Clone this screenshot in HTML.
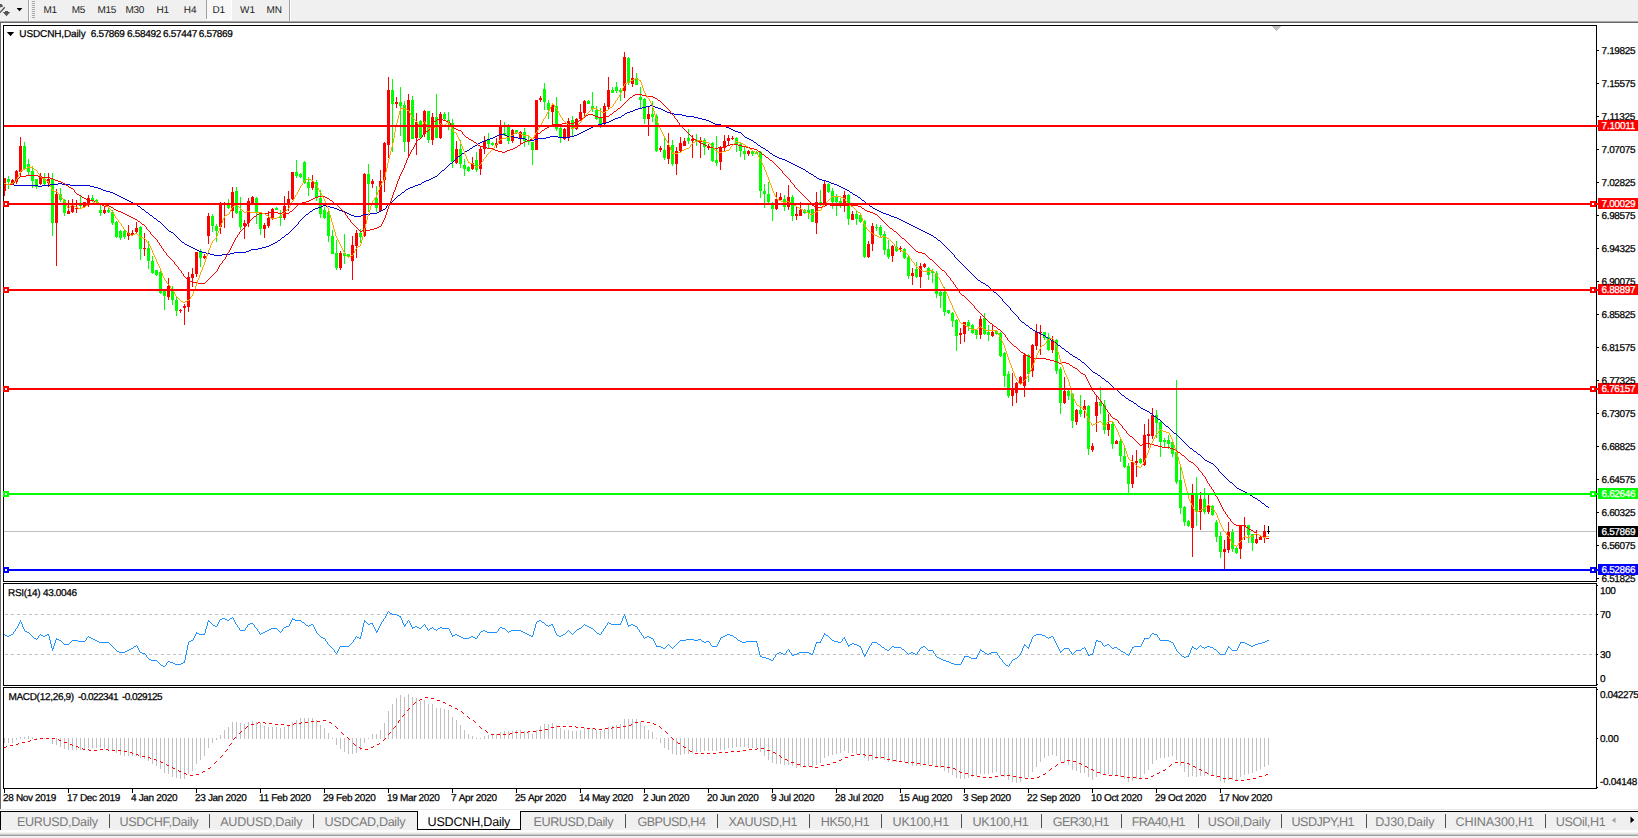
<!DOCTYPE html>
<html><head><meta charset="utf-8"><title>USDCNH,Daily</title>
<style>
html,body{margin:0;padding:0;background:#fff;overflow:hidden;}
body{width:1638px;height:838px;overflow:hidden;position:relative;font-family:"Liberation Sans",sans-serif;}
.t{position:absolute;white-space:nowrap;line-height:1;text-rendering:geometricPrecision;}
.b{position:absolute;}
</style></head><body>
<div class="b" style="left:0px;top:0px;width:1638px;height:21px;background:#f0f0f0"></div><div class="b" style="left:0px;top:21px;width:1638px;height:1px;background:#a8a8a8"></div><div class="b" style="left:0px;top:22px;width:1638px;height:1px;background:#696969"></div><div class="b" style="left:28px;top:0px;width:1px;height:21px;background:#a0a0a0"></div><div class="b" style="left:29px;top:0px;width:1px;height:21px;background:#fff"></div><div class="b" style="left:32px;top:1px;width:3px;height:1px;background:#a8a8a8"></div><div class="b" style="left:32px;top:3px;width:3px;height:1px;background:#a8a8a8"></div><div class="b" style="left:32px;top:5px;width:3px;height:1px;background:#a8a8a8"></div><div class="b" style="left:32px;top:7px;width:3px;height:1px;background:#a8a8a8"></div><div class="b" style="left:32px;top:9px;width:3px;height:1px;background:#a8a8a8"></div><div class="b" style="left:32px;top:11px;width:3px;height:1px;background:#a8a8a8"></div><div class="b" style="left:32px;top:13px;width:3px;height:1px;background:#a8a8a8"></div><div class="b" style="left:32px;top:15px;width:3px;height:1px;background:#a8a8a8"></div><div class="b" style="left:32px;top:17px;width:3px;height:1px;background:#a8a8a8"></div><div class="b" style="left:206px;top:0px;width:1px;height:19px;background:#a0a0a0"></div><div class="b" style="left:207px;top:0px;width:24px;height:19px;background:#f8f8f8"></div><div class="b" style="left:206px;top:19px;width:26px;height:1px;background:#fff"></div><div class="b" style="left:231px;top:0px;width:1px;height:19px;background:#fff"></div><div class="b" style="left:289px;top:0px;width:1px;height:21px;background:#a0a0a0"></div><div class="b" style="left:290px;top:0px;width:1px;height:21px;background:#fff"></div><div class="b" style="left:0px;top:23px;width:1px;height:786px;background:#696969"></div><div class="b" style="left:0px;top:809px;width:1638px;height:1px;background:#e6e6e6"></div><div class="b" style="left:0px;top:812px;width:1638px;height:18px;background:#f0f0f0"></div><div class="b" style="left:0px;top:811px;width:1638px;height:1px;background:#000"></div><div class="b" style="left:0px;top:811px;width:1px;height:19px;background:#000"></div><div class="b" style="left:0px;top:830px;width:1638px;height:2px;background:#fdfdfd"></div><div class="b" style="left:0px;top:832px;width:1638px;height:1px;background:#f4f4f4"></div><div class="b" style="left:0px;top:833px;width:1638px;height:1px;background:#e4e4e4"></div><div class="b" style="left:0px;top:834px;width:1638px;height:1px;background:#c8c8c8"></div><div class="b" style="left:0px;top:835px;width:1638px;height:1px;background:#a0a0a0"></div><div class="b" style="left:0px;top:836px;width:1638px;height:2px;background:#f0f0f0"></div><div class="b" style="left:109px;top:814px;width:1px;height:14px;background:#505050"></div><div class="b" style="left:209px;top:814px;width:1px;height:14px;background:#505050"></div><div class="b" style="left:313px;top:814px;width:1px;height:14px;background:#505050"></div><div class="b" style="left:625px;top:814px;width:1px;height:14px;background:#505050"></div><div class="b" style="left:717px;top:814px;width:1px;height:14px;background:#505050"></div><div class="b" style="left:809px;top:814px;width:1px;height:14px;background:#505050"></div><div class="b" style="left:881px;top:814px;width:1px;height:14px;background:#505050"></div><div class="b" style="left:961px;top:814px;width:1px;height:14px;background:#505050"></div><div class="b" style="left:1041px;top:814px;width:1px;height:14px;background:#505050"></div><div class="b" style="left:1121px;top:814px;width:1px;height:14px;background:#505050"></div><div class="b" style="left:1198px;top:814px;width:1px;height:14px;background:#505050"></div><div class="b" style="left:1281px;top:814px;width:1px;height:14px;background:#505050"></div><div class="b" style="left:1366px;top:814px;width:1px;height:14px;background:#505050"></div><div class="b" style="left:1445px;top:814px;width:1px;height:14px;background:#505050"></div><div class="b" style="left:1545px;top:814px;width:1px;height:14px;background:#505050"></div><div class="b" style="left:417px;top:811px;width:104px;height:19px;background:#000"></div><div class="b" style="left:418px;top:811px;width:102px;height:18px;background:#fff"></div>
<svg width="1638" height="838" viewBox="0 0 1638 838" shape-rendering="crispEdges" style="position:absolute;left:0;top:0">
<rect x="3" y="25" width="1594" height="1" fill="#000"/>
<rect x="3" y="25" width="1" height="557" fill="#000"/>
<rect x="3" y="581" width="1594" height="1" fill="#000"/>
<rect x="1596" y="25" width="1" height="557" fill="#000"/>
<rect x="3" y="583" width="1594" height="1" fill="#000"/>
<rect x="3" y="583" width="1" height="103" fill="#000"/>
<rect x="3" y="685" width="1594" height="1" fill="#000"/>
<rect x="1596" y="583" width="1" height="103" fill="#000"/>
<rect x="3" y="687" width="1594" height="1" fill="#000"/>
<rect x="3" y="687" width="1" height="102" fill="#000"/>
<rect x="3" y="788" width="1594" height="1" fill="#000"/>
<rect x="1596" y="687" width="1" height="102" fill="#000"/>
<rect x="1597" y="50" width="2" height="1" fill="#000"/>
<rect x="1597" y="83" width="2" height="1" fill="#000"/>
<rect x="1597" y="116" width="2" height="1" fill="#000"/>
<rect x="1597" y="149" width="2" height="1" fill="#000"/>
<rect x="1597" y="182" width="2" height="1" fill="#000"/>
<rect x="1597" y="215" width="2" height="1" fill="#000"/>
<rect x="1597" y="248" width="2" height="1" fill="#000"/>
<rect x="1597" y="281" width="2" height="1" fill="#000"/>
<rect x="1597" y="314" width="2" height="1" fill="#000"/>
<rect x="1597" y="347" width="2" height="1" fill="#000"/>
<rect x="1597" y="380" width="2" height="1" fill="#000"/>
<rect x="1597" y="413" width="2" height="1" fill="#000"/>
<rect x="1597" y="446" width="2" height="1" fill="#000"/>
<rect x="1597" y="479" width="2" height="1" fill="#000"/>
<rect x="1597" y="512" width="2" height="1" fill="#000"/>
<rect x="1597" y="545" width="2" height="1" fill="#000"/>
<rect x="1597" y="578" width="2" height="1" fill="#000"/>
<rect x="1597" y="585" width="1" height="1" fill="#000"/>
<rect x="1597" y="614" width="1" height="1" fill="#000"/>
<rect x="1597" y="654" width="1" height="1" fill="#000"/>
<rect x="1597" y="684" width="1" height="1" fill="#000"/>
<rect x="1597" y="689" width="1" height="1" fill="#000"/>
<rect x="1597" y="738" width="1" height="1" fill="#000"/>
<rect x="1597" y="787" width="1" height="1" fill="#000"/>
<rect x="4" y="789" width="1" height="4" fill="#000"/>
<rect x="68" y="789" width="1" height="4" fill="#000"/>
<rect x="132" y="789" width="1" height="4" fill="#000"/>
<rect x="196" y="789" width="1" height="4" fill="#000"/>
<rect x="260" y="789" width="1" height="4" fill="#000"/>
<rect x="324" y="789" width="1" height="4" fill="#000"/>
<rect x="388" y="789" width="1" height="4" fill="#000"/>
<rect x="452" y="789" width="1" height="4" fill="#000"/>
<rect x="516" y="789" width="1" height="4" fill="#000"/>
<rect x="580" y="789" width="1" height="4" fill="#000"/>
<rect x="644" y="789" width="1" height="4" fill="#000"/>
<rect x="708" y="789" width="1" height="4" fill="#000"/>
<rect x="772" y="789" width="1" height="4" fill="#000"/>
<rect x="836" y="789" width="1" height="4" fill="#000"/>
<rect x="900" y="789" width="1" height="4" fill="#000"/>
<rect x="964" y="789" width="1" height="4" fill="#000"/>
<rect x="1028" y="789" width="1" height="4" fill="#000"/>
<rect x="1092" y="789" width="1" height="4" fill="#000"/>
<rect x="1156" y="789" width="1" height="4" fill="#000"/>
<rect x="1220" y="789" width="1" height="4" fill="#000"/>
<line x1="5" y1="614.5" x2="1596" y2="614.5" stroke="#c0c0c0" stroke-width="1" stroke-dasharray="3 3"/>
<line x1="5" y1="654.5" x2="1596" y2="654.5" stroke="#c0c0c0" stroke-width="1" stroke-dasharray="3 3"/>
<polygon points="1271,26 1282,26 1276.5,31" fill="#c0c0c0"/>
<rect x="4" y="531" width="1592" height="1" fill="#c0c0c0"/>
<rect x="4" y="178" width="1" height="18" fill="#ff0000"/>
<rect x="3" y="178" width="3" height="13" fill="#ff0000"/>
<rect x="8" y="176" width="1" height="13" fill="#00ff00"/>
<rect x="7" y="179" width="3" height="3" fill="#00ff00"/>
<rect x="12" y="179" width="1" height="5" fill="#ff0000"/>
<rect x="11" y="180" width="3" height="4" fill="#ff0000"/>
<rect x="16" y="170" width="1" height="14" fill="#ff0000"/>
<rect x="15" y="171" width="3" height="11" fill="#ff0000"/>
<rect x="20" y="137" width="1" height="40" fill="#ff0000"/>
<rect x="19" y="146" width="3" height="26" fill="#ff0000"/>
<rect x="24" y="142" width="1" height="27" fill="#00ff00"/>
<rect x="23" y="146" width="3" height="23" fill="#00ff00"/>
<rect x="28" y="159" width="1" height="16" fill="#00ff00"/>
<rect x="27" y="164" width="3" height="8" fill="#00ff00"/>
<rect x="32" y="166" width="1" height="22" fill="#00ff00"/>
<rect x="31" y="171" width="3" height="10" fill="#00ff00"/>
<rect x="36" y="179" width="1" height="10" fill="#00ff00"/>
<rect x="35" y="179" width="3" height="8" fill="#00ff00"/>
<rect x="40" y="173" width="1" height="12" fill="#ff0000"/>
<rect x="39" y="177" width="3" height="7" fill="#ff0000"/>
<rect x="44" y="173" width="1" height="12" fill="#00ff00"/>
<rect x="43" y="179" width="3" height="5" fill="#00ff00"/>
<rect x="48" y="173" width="1" height="14" fill="#ff0000"/>
<rect x="47" y="179" width="3" height="4" fill="#ff0000"/>
<rect x="52" y="173" width="1" height="63" fill="#00ff00"/>
<rect x="51" y="179" width="3" height="44" fill="#00ff00"/>
<rect x="56" y="189" width="1" height="77" fill="#ff0000"/>
<rect x="55" y="194" width="3" height="29" fill="#ff0000"/>
<rect x="60" y="188" width="1" height="14" fill="#00ff00"/>
<rect x="59" y="194" width="3" height="6" fill="#00ff00"/>
<rect x="64" y="199" width="1" height="17" fill="#00ff00"/>
<rect x="63" y="200" width="3" height="13" fill="#00ff00"/>
<rect x="68" y="200" width="1" height="14" fill="#ff0000"/>
<rect x="67" y="211" width="3" height="3" fill="#ff0000"/>
<rect x="72" y="199" width="1" height="14" fill="#ff0000"/>
<rect x="71" y="206" width="3" height="6" fill="#ff0000"/>
<rect x="76" y="200" width="1" height="13" fill="#ff0000"/>
<rect x="75" y="208" width="3" height="1" fill="#ff0000"/>
<rect x="80" y="195" width="1" height="13" fill="#00ff00"/>
<rect x="79" y="204" width="3" height="2" fill="#00ff00"/>
<rect x="84" y="202" width="1" height="5" fill="#ff0000"/>
<rect x="83" y="202" width="3" height="5" fill="#ff0000"/>
<rect x="88" y="195" width="1" height="12" fill="#ff0000"/>
<rect x="87" y="198" width="3" height="6" fill="#ff0000"/>
<rect x="92" y="195" width="1" height="7" fill="#00ff00"/>
<rect x="91" y="198" width="3" height="2" fill="#00ff00"/>
<rect x="96" y="199" width="1" height="6" fill="#00ff00"/>
<rect x="95" y="200" width="3" height="2" fill="#00ff00"/>
<rect x="100" y="204" width="1" height="12" fill="#00ff00"/>
<rect x="99" y="210" width="3" height="3" fill="#00ff00"/>
<rect x="104" y="206" width="1" height="8" fill="#ff0000"/>
<rect x="103" y="210" width="3" height="3" fill="#ff0000"/>
<rect x="108" y="208" width="1" height="5" fill="#00ff00"/>
<rect x="107" y="210" width="3" height="2" fill="#00ff00"/>
<rect x="112" y="210" width="1" height="15" fill="#00ff00"/>
<rect x="111" y="212" width="3" height="11" fill="#00ff00"/>
<rect x="116" y="221" width="1" height="17" fill="#00ff00"/>
<rect x="115" y="222" width="3" height="15" fill="#00ff00"/>
<rect x="120" y="230" width="1" height="10" fill="#00ff00"/>
<rect x="119" y="231" width="3" height="7" fill="#00ff00"/>
<rect x="124" y="229" width="1" height="10" fill="#00ff00"/>
<rect x="123" y="231" width="3" height="6" fill="#00ff00"/>
<rect x="128" y="225" width="1" height="15" fill="#ff0000"/>
<rect x="127" y="233" width="3" height="3" fill="#ff0000"/>
<rect x="132" y="230" width="1" height="6" fill="#ff0000"/>
<rect x="131" y="233" width="3" height="2" fill="#ff0000"/>
<rect x="136" y="222" width="1" height="11" fill="#ff0000"/>
<rect x="135" y="228" width="3" height="4" fill="#ff0000"/>
<rect x="140" y="226" width="1" height="34" fill="#00ff00"/>
<rect x="139" y="227" width="3" height="22" fill="#00ff00"/>
<rect x="144" y="233" width="1" height="23" fill="#ff0000"/>
<rect x="143" y="248" width="3" height="1" fill="#ff0000"/>
<rect x="148" y="241" width="1" height="28" fill="#00ff00"/>
<rect x="147" y="248" width="3" height="13" fill="#00ff00"/>
<rect x="152" y="256" width="1" height="18" fill="#00ff00"/>
<rect x="151" y="261" width="3" height="12" fill="#00ff00"/>
<rect x="156" y="270" width="1" height="6" fill="#00ff00"/>
<rect x="155" y="270" width="3" height="5" fill="#00ff00"/>
<rect x="160" y="271" width="1" height="23" fill="#00ff00"/>
<rect x="159" y="272" width="3" height="21" fill="#00ff00"/>
<rect x="164" y="290" width="1" height="20" fill="#00ff00"/>
<rect x="163" y="291" width="3" height="5" fill="#00ff00"/>
<rect x="168" y="278" width="1" height="22" fill="#ff0000"/>
<rect x="167" y="286" width="3" height="11" fill="#ff0000"/>
<rect x="172" y="286" width="1" height="19" fill="#00ff00"/>
<rect x="171" y="291" width="3" height="9" fill="#00ff00"/>
<rect x="176" y="296" width="1" height="20" fill="#00ff00"/>
<rect x="175" y="300" width="3" height="11" fill="#00ff00"/>
<rect x="180" y="309" width="1" height="4" fill="#ff0000"/>
<rect x="179" y="310" width="3" height="1" fill="#ff0000"/>
<rect x="184" y="304" width="1" height="21" fill="#ff0000"/>
<rect x="183" y="306" width="3" height="2" fill="#ff0000"/>
<rect x="188" y="272" width="1" height="40" fill="#ff0000"/>
<rect x="187" y="277" width="3" height="30" fill="#ff0000"/>
<rect x="192" y="268" width="1" height="19" fill="#ff0000"/>
<rect x="191" y="274" width="3" height="4" fill="#ff0000"/>
<rect x="196" y="252" width="1" height="25" fill="#ff0000"/>
<rect x="195" y="252" width="3" height="22" fill="#ff0000"/>
<rect x="200" y="249" width="1" height="18" fill="#00ff00"/>
<rect x="199" y="252" width="3" height="6" fill="#00ff00"/>
<rect x="204" y="254" width="1" height="5" fill="#ff0000"/>
<rect x="203" y="256" width="3" height="2" fill="#ff0000"/>
<rect x="208" y="213" width="1" height="31" fill="#ff0000"/>
<rect x="207" y="216" width="3" height="20" fill="#ff0000"/>
<rect x="212" y="214" width="1" height="18" fill="#00ff00"/>
<rect x="211" y="216" width="3" height="10" fill="#00ff00"/>
<rect x="216" y="224" width="1" height="18" fill="#00ff00"/>
<rect x="215" y="226" width="3" height="5" fill="#00ff00"/>
<rect x="220" y="202" width="1" height="32" fill="#ff0000"/>
<rect x="219" y="204" width="3" height="23" fill="#ff0000"/>
<rect x="224" y="202" width="1" height="26" fill="#ff0000"/>
<rect x="223" y="204" width="3" height="1" fill="#ff0000"/>
<rect x="228" y="199" width="1" height="10" fill="#00ff00"/>
<rect x="227" y="205" width="3" height="3" fill="#00ff00"/>
<rect x="232" y="187" width="1" height="31" fill="#ff0000"/>
<rect x="231" y="192" width="3" height="19" fill="#ff0000"/>
<rect x="236" y="187" width="1" height="27" fill="#00ff00"/>
<rect x="235" y="191" width="3" height="22" fill="#00ff00"/>
<rect x="240" y="197" width="1" height="33" fill="#00ff00"/>
<rect x="239" y="211" width="3" height="16" fill="#00ff00"/>
<rect x="244" y="220" width="1" height="19" fill="#ff0000"/>
<rect x="243" y="223" width="3" height="3" fill="#ff0000"/>
<rect x="248" y="198" width="1" height="29" fill="#ff0000"/>
<rect x="247" y="201" width="3" height="22" fill="#ff0000"/>
<rect x="252" y="196" width="1" height="8" fill="#ff0000"/>
<rect x="251" y="197" width="3" height="6" fill="#ff0000"/>
<rect x="256" y="197" width="1" height="27" fill="#00ff00"/>
<rect x="255" y="198" width="3" height="15" fill="#00ff00"/>
<rect x="260" y="212" width="1" height="23" fill="#00ff00"/>
<rect x="259" y="213" width="3" height="16" fill="#00ff00"/>
<rect x="264" y="223" width="1" height="15" fill="#ff0000"/>
<rect x="263" y="225" width="3" height="4" fill="#ff0000"/>
<rect x="268" y="211" width="1" height="17" fill="#ff0000"/>
<rect x="267" y="218" width="3" height="8" fill="#ff0000"/>
<rect x="272" y="208" width="1" height="12" fill="#ff0000"/>
<rect x="271" y="209" width="3" height="9" fill="#ff0000"/>
<rect x="276" y="207" width="1" height="3" fill="#00ff00"/>
<rect x="275" y="208" width="3" height="2" fill="#00ff00"/>
<rect x="280" y="210" width="1" height="16" fill="#00ff00"/>
<rect x="279" y="216" width="3" height="2" fill="#00ff00"/>
<rect x="284" y="196" width="1" height="24" fill="#ff0000"/>
<rect x="283" y="206" width="3" height="12" fill="#ff0000"/>
<rect x="288" y="191" width="1" height="20" fill="#ff0000"/>
<rect x="287" y="199" width="3" height="5" fill="#ff0000"/>
<rect x="292" y="172" width="1" height="28" fill="#ff0000"/>
<rect x="291" y="172" width="3" height="27" fill="#ff0000"/>
<rect x="296" y="160" width="1" height="18" fill="#00ff00"/>
<rect x="295" y="172" width="3" height="4" fill="#00ff00"/>
<rect x="300" y="173" width="1" height="5" fill="#00ff00"/>
<rect x="299" y="174" width="3" height="3" fill="#00ff00"/>
<rect x="304" y="161" width="1" height="23" fill="#00ff00"/>
<rect x="303" y="162" width="3" height="21" fill="#00ff00"/>
<rect x="308" y="177" width="1" height="19" fill="#00ff00"/>
<rect x="307" y="182" width="3" height="6" fill="#00ff00"/>
<rect x="312" y="175" width="1" height="15" fill="#ff0000"/>
<rect x="311" y="182" width="3" height="6" fill="#ff0000"/>
<rect x="316" y="180" width="1" height="21" fill="#00ff00"/>
<rect x="315" y="182" width="3" height="16" fill="#00ff00"/>
<rect x="320" y="190" width="1" height="28" fill="#00ff00"/>
<rect x="319" y="198" width="3" height="16" fill="#00ff00"/>
<rect x="324" y="207" width="1" height="12" fill="#00ff00"/>
<rect x="323" y="210" width="3" height="8" fill="#00ff00"/>
<rect x="328" y="210" width="1" height="32" fill="#00ff00"/>
<rect x="327" y="212" width="3" height="24" fill="#00ff00"/>
<rect x="332" y="230" width="1" height="24" fill="#00ff00"/>
<rect x="331" y="236" width="3" height="18" fill="#00ff00"/>
<rect x="336" y="240" width="1" height="30" fill="#00ff00"/>
<rect x="335" y="253" width="3" height="15" fill="#00ff00"/>
<rect x="340" y="251" width="1" height="19" fill="#ff0000"/>
<rect x="339" y="253" width="3" height="15" fill="#ff0000"/>
<rect x="344" y="234" width="1" height="30" fill="#00ff00"/>
<rect x="343" y="253" width="3" height="3" fill="#00ff00"/>
<rect x="348" y="254" width="1" height="4" fill="#00ff00"/>
<rect x="347" y="254" width="3" height="3" fill="#00ff00"/>
<rect x="352" y="236" width="1" height="44" fill="#ff0000"/>
<rect x="351" y="245" width="3" height="16" fill="#ff0000"/>
<rect x="356" y="230" width="1" height="28" fill="#ff0000"/>
<rect x="355" y="233" width="3" height="13" fill="#ff0000"/>
<rect x="360" y="229" width="1" height="14" fill="#00ff00"/>
<rect x="359" y="233" width="3" height="4" fill="#00ff00"/>
<rect x="364" y="173" width="1" height="64" fill="#ff0000"/>
<rect x="363" y="174" width="3" height="62" fill="#ff0000"/>
<rect x="368" y="164" width="1" height="48" fill="#00ff00"/>
<rect x="367" y="174" width="3" height="10" fill="#00ff00"/>
<rect x="372" y="179" width="1" height="9" fill="#ff0000"/>
<rect x="371" y="181" width="3" height="3" fill="#ff0000"/>
<rect x="376" y="186" width="1" height="26" fill="#00ff00"/>
<rect x="375" y="198" width="3" height="10" fill="#00ff00"/>
<rect x="380" y="170" width="1" height="42" fill="#ff0000"/>
<rect x="379" y="181" width="3" height="30" fill="#ff0000"/>
<rect x="384" y="142" width="1" height="50" fill="#ff0000"/>
<rect x="383" y="143" width="3" height="37" fill="#ff0000"/>
<rect x="388" y="77" width="1" height="81" fill="#ff0000"/>
<rect x="387" y="90" width="3" height="55" fill="#ff0000"/>
<rect x="392" y="79" width="1" height="73" fill="#00ff00"/>
<rect x="391" y="90" width="3" height="14" fill="#00ff00"/>
<rect x="396" y="97" width="1" height="11" fill="#ff0000"/>
<rect x="395" y="102" width="3" height="2" fill="#ff0000"/>
<rect x="400" y="87" width="1" height="49" fill="#00ff00"/>
<rect x="399" y="102" width="3" height="4" fill="#00ff00"/>
<rect x="404" y="101" width="1" height="51" fill="#00ff00"/>
<rect x="403" y="105" width="3" height="37" fill="#00ff00"/>
<rect x="408" y="94" width="1" height="62" fill="#ff0000"/>
<rect x="407" y="100" width="3" height="42" fill="#ff0000"/>
<rect x="412" y="96" width="1" height="43" fill="#00ff00"/>
<rect x="411" y="100" width="3" height="39" fill="#00ff00"/>
<rect x="416" y="113" width="1" height="42" fill="#ff0000"/>
<rect x="415" y="122" width="3" height="16" fill="#ff0000"/>
<rect x="420" y="120" width="1" height="18" fill="#00ff00"/>
<rect x="419" y="121" width="3" height="17" fill="#00ff00"/>
<rect x="424" y="110" width="1" height="27" fill="#ff0000"/>
<rect x="423" y="111" width="3" height="23" fill="#ff0000"/>
<rect x="428" y="111" width="1" height="32" fill="#00ff00"/>
<rect x="427" y="111" width="3" height="29" fill="#00ff00"/>
<rect x="432" y="113" width="1" height="32" fill="#ff0000"/>
<rect x="431" y="117" width="3" height="23" fill="#ff0000"/>
<rect x="436" y="94" width="1" height="44" fill="#00ff00"/>
<rect x="435" y="117" width="3" height="21" fill="#00ff00"/>
<rect x="440" y="112" width="1" height="27" fill="#ff0000"/>
<rect x="439" y="114" width="3" height="24" fill="#ff0000"/>
<rect x="444" y="112" width="1" height="8" fill="#00ff00"/>
<rect x="443" y="114" width="3" height="5" fill="#00ff00"/>
<rect x="448" y="112" width="1" height="18" fill="#00ff00"/>
<rect x="447" y="120" width="3" height="2" fill="#00ff00"/>
<rect x="452" y="119" width="1" height="49" fill="#00ff00"/>
<rect x="451" y="123" width="3" height="39" fill="#00ff00"/>
<rect x="456" y="141" width="1" height="23" fill="#ff0000"/>
<rect x="455" y="149" width="3" height="14" fill="#ff0000"/>
<rect x="460" y="140" width="1" height="28" fill="#00ff00"/>
<rect x="459" y="149" width="3" height="15" fill="#00ff00"/>
<rect x="464" y="159" width="1" height="17" fill="#00ff00"/>
<rect x="463" y="165" width="3" height="4" fill="#00ff00"/>
<rect x="468" y="166" width="1" height="6" fill="#00ff00"/>
<rect x="467" y="167" width="3" height="4" fill="#00ff00"/>
<rect x="472" y="157" width="1" height="13" fill="#ff0000"/>
<rect x="471" y="163" width="3" height="6" fill="#ff0000"/>
<rect x="476" y="152" width="1" height="20" fill="#00ff00"/>
<rect x="475" y="160" width="3" height="10" fill="#00ff00"/>
<rect x="480" y="146" width="1" height="29" fill="#ff0000"/>
<rect x="479" y="149" width="3" height="20" fill="#ff0000"/>
<rect x="484" y="136" width="1" height="18" fill="#ff0000"/>
<rect x="483" y="141" width="3" height="8" fill="#ff0000"/>
<rect x="488" y="133" width="1" height="16" fill="#00ff00"/>
<rect x="487" y="140" width="3" height="4" fill="#00ff00"/>
<rect x="492" y="142" width="1" height="4" fill="#00ff00"/>
<rect x="491" y="143" width="3" height="2" fill="#00ff00"/>
<rect x="496" y="138" width="1" height="10" fill="#ff0000"/>
<rect x="495" y="143" width="3" height="2" fill="#ff0000"/>
<rect x="500" y="120" width="1" height="24" fill="#ff0000"/>
<rect x="499" y="126" width="3" height="18" fill="#ff0000"/>
<rect x="504" y="122" width="1" height="14" fill="#00ff00"/>
<rect x="503" y="133" width="3" height="2" fill="#00ff00"/>
<rect x="508" y="124" width="1" height="20" fill="#00ff00"/>
<rect x="507" y="127" width="3" height="14" fill="#00ff00"/>
<rect x="512" y="129" width="1" height="14" fill="#ff0000"/>
<rect x="511" y="130" width="3" height="11" fill="#ff0000"/>
<rect x="516" y="130" width="1" height="4" fill="#00ff00"/>
<rect x="515" y="130" width="3" height="3" fill="#00ff00"/>
<rect x="520" y="131" width="1" height="13" fill="#ff0000"/>
<rect x="519" y="132" width="3" height="7" fill="#ff0000"/>
<rect x="524" y="128" width="1" height="19" fill="#00ff00"/>
<rect x="523" y="132" width="3" height="9" fill="#00ff00"/>
<rect x="528" y="136" width="1" height="9" fill="#00ff00"/>
<rect x="527" y="140" width="3" height="2" fill="#00ff00"/>
<rect x="532" y="142" width="1" height="23" fill="#00ff00"/>
<rect x="531" y="142" width="3" height="8" fill="#00ff00"/>
<rect x="536" y="100" width="1" height="50" fill="#ff0000"/>
<rect x="535" y="100" width="3" height="50" fill="#ff0000"/>
<rect x="540" y="96" width="1" height="6" fill="#ff0000"/>
<rect x="539" y="98" width="3" height="2" fill="#ff0000"/>
<rect x="544" y="83" width="1" height="27" fill="#00ff00"/>
<rect x="543" y="89" width="3" height="13" fill="#00ff00"/>
<rect x="548" y="100" width="1" height="19" fill="#00ff00"/>
<rect x="547" y="103" width="3" height="7" fill="#00ff00"/>
<rect x="552" y="103" width="1" height="23" fill="#ff0000"/>
<rect x="551" y="105" width="3" height="7" fill="#ff0000"/>
<rect x="556" y="97" width="1" height="34" fill="#00ff00"/>
<rect x="555" y="106" width="3" height="23" fill="#00ff00"/>
<rect x="560" y="127" width="1" height="16" fill="#00ff00"/>
<rect x="559" y="128" width="3" height="9" fill="#00ff00"/>
<rect x="564" y="128" width="1" height="12" fill="#ff0000"/>
<rect x="563" y="129" width="3" height="10" fill="#ff0000"/>
<rect x="568" y="118" width="1" height="23" fill="#ff0000"/>
<rect x="567" y="121" width="3" height="16" fill="#ff0000"/>
<rect x="572" y="116" width="1" height="20" fill="#00ff00"/>
<rect x="571" y="120" width="3" height="9" fill="#00ff00"/>
<rect x="576" y="118" width="1" height="12" fill="#ff0000"/>
<rect x="575" y="119" width="3" height="10" fill="#ff0000"/>
<rect x="580" y="104" width="1" height="17" fill="#ff0000"/>
<rect x="579" y="112" width="3" height="7" fill="#ff0000"/>
<rect x="584" y="100" width="1" height="16" fill="#ff0000"/>
<rect x="583" y="101" width="3" height="12" fill="#ff0000"/>
<rect x="588" y="100" width="1" height="4" fill="#00ff00"/>
<rect x="587" y="101" width="3" height="3" fill="#00ff00"/>
<rect x="592" y="92" width="1" height="20" fill="#00ff00"/>
<rect x="591" y="106" width="3" height="3" fill="#00ff00"/>
<rect x="596" y="106" width="1" height="14" fill="#00ff00"/>
<rect x="595" y="110" width="3" height="9" fill="#00ff00"/>
<rect x="600" y="108" width="1" height="20" fill="#00ff00"/>
<rect x="599" y="118" width="3" height="6" fill="#00ff00"/>
<rect x="604" y="103" width="1" height="24" fill="#ff0000"/>
<rect x="603" y="106" width="3" height="18" fill="#ff0000"/>
<rect x="608" y="77" width="1" height="33" fill="#ff0000"/>
<rect x="607" y="90" width="3" height="17" fill="#ff0000"/>
<rect x="612" y="87" width="1" height="6" fill="#00ff00"/>
<rect x="611" y="90" width="3" height="3" fill="#00ff00"/>
<rect x="616" y="82" width="1" height="11" fill="#00ff00"/>
<rect x="615" y="87" width="3" height="4" fill="#00ff00"/>
<rect x="620" y="88" width="1" height="13" fill="#00ff00"/>
<rect x="619" y="90" width="3" height="2" fill="#00ff00"/>
<rect x="624" y="52" width="1" height="46" fill="#ff0000"/>
<rect x="623" y="57" width="3" height="34" fill="#ff0000"/>
<rect x="628" y="57" width="1" height="28" fill="#00ff00"/>
<rect x="627" y="58" width="3" height="25" fill="#00ff00"/>
<rect x="632" y="67" width="1" height="20" fill="#ff0000"/>
<rect x="631" y="78" width="3" height="6" fill="#ff0000"/>
<rect x="636" y="73" width="1" height="12" fill="#00ff00"/>
<rect x="635" y="78" width="3" height="7" fill="#00ff00"/>
<rect x="640" y="87" width="1" height="22" fill="#00ff00"/>
<rect x="639" y="97" width="3" height="3" fill="#00ff00"/>
<rect x="644" y="98" width="1" height="26" fill="#00ff00"/>
<rect x="643" y="99" width="3" height="20" fill="#00ff00"/>
<rect x="648" y="106" width="1" height="30" fill="#ff0000"/>
<rect x="647" y="114" width="3" height="5" fill="#ff0000"/>
<rect x="652" y="101" width="1" height="21" fill="#00ff00"/>
<rect x="651" y="114" width="3" height="3" fill="#00ff00"/>
<rect x="656" y="114" width="1" height="38" fill="#00ff00"/>
<rect x="655" y="116" width="3" height="35" fill="#00ff00"/>
<rect x="660" y="146" width="1" height="6" fill="#ff0000"/>
<rect x="659" y="148" width="3" height="2" fill="#ff0000"/>
<rect x="664" y="136" width="1" height="24" fill="#00ff00"/>
<rect x="663" y="150" width="3" height="8" fill="#00ff00"/>
<rect x="668" y="133" width="1" height="31" fill="#ff0000"/>
<rect x="667" y="145" width="3" height="14" fill="#ff0000"/>
<rect x="672" y="140" width="1" height="26" fill="#00ff00"/>
<rect x="671" y="145" width="3" height="19" fill="#00ff00"/>
<rect x="676" y="147" width="1" height="28" fill="#ff0000"/>
<rect x="675" y="151" width="3" height="13" fill="#ff0000"/>
<rect x="680" y="137" width="1" height="15" fill="#ff0000"/>
<rect x="679" y="143" width="3" height="8" fill="#ff0000"/>
<rect x="684" y="138" width="1" height="8" fill="#ff0000"/>
<rect x="683" y="141" width="3" height="5" fill="#ff0000"/>
<rect x="688" y="129" width="1" height="15" fill="#00ff00"/>
<rect x="687" y="138" width="3" height="3" fill="#00ff00"/>
<rect x="692" y="135" width="1" height="23" fill="#ff0000"/>
<rect x="691" y="139" width="3" height="2" fill="#ff0000"/>
<rect x="696" y="134" width="1" height="12" fill="#00ff00"/>
<rect x="695" y="140" width="3" height="2" fill="#00ff00"/>
<rect x="700" y="137" width="1" height="21" fill="#ff0000"/>
<rect x="699" y="140" width="3" height="2" fill="#ff0000"/>
<rect x="704" y="138" width="1" height="17" fill="#00ff00"/>
<rect x="703" y="140" width="3" height="7" fill="#00ff00"/>
<rect x="708" y="144" width="1" height="6" fill="#ff0000"/>
<rect x="707" y="146" width="3" height="2" fill="#ff0000"/>
<rect x="712" y="142" width="1" height="20" fill="#00ff00"/>
<rect x="711" y="143" width="3" height="18" fill="#00ff00"/>
<rect x="716" y="136" width="1" height="30" fill="#00ff00"/>
<rect x="715" y="160" width="3" height="3" fill="#00ff00"/>
<rect x="720" y="146" width="1" height="24" fill="#ff0000"/>
<rect x="719" y="147" width="3" height="15" fill="#ff0000"/>
<rect x="724" y="135" width="1" height="16" fill="#ff0000"/>
<rect x="723" y="141" width="3" height="7" fill="#ff0000"/>
<rect x="728" y="135" width="1" height="11" fill="#ff0000"/>
<rect x="727" y="138" width="3" height="3" fill="#ff0000"/>
<rect x="732" y="136" width="1" height="4" fill="#ff0000"/>
<rect x="731" y="138" width="3" height="1" fill="#ff0000"/>
<rect x="736" y="137" width="1" height="15" fill="#00ff00"/>
<rect x="735" y="138" width="3" height="6" fill="#00ff00"/>
<rect x="740" y="143" width="1" height="14" fill="#00ff00"/>
<rect x="739" y="144" width="3" height="7" fill="#00ff00"/>
<rect x="744" y="146" width="1" height="14" fill="#00ff00"/>
<rect x="743" y="151" width="3" height="3" fill="#00ff00"/>
<rect x="748" y="150" width="1" height="6" fill="#ff0000"/>
<rect x="747" y="151" width="3" height="3" fill="#ff0000"/>
<rect x="752" y="150" width="1" height="6" fill="#00ff00"/>
<rect x="751" y="151" width="3" height="3" fill="#00ff00"/>
<rect x="756" y="151" width="1" height="3" fill="#00ff00"/>
<rect x="755" y="152" width="3" height="2" fill="#00ff00"/>
<rect x="760" y="151" width="1" height="47" fill="#00ff00"/>
<rect x="759" y="152" width="3" height="39" fill="#00ff00"/>
<rect x="764" y="184" width="1" height="24" fill="#00ff00"/>
<rect x="763" y="191" width="3" height="3" fill="#00ff00"/>
<rect x="768" y="182" width="1" height="21" fill="#00ff00"/>
<rect x="767" y="194" width="3" height="8" fill="#00ff00"/>
<rect x="772" y="202" width="1" height="19" fill="#00ff00"/>
<rect x="771" y="205" width="3" height="4" fill="#00ff00"/>
<rect x="776" y="192" width="1" height="18" fill="#ff0000"/>
<rect x="775" y="199" width="3" height="10" fill="#ff0000"/>
<rect x="780" y="193" width="1" height="8" fill="#ff0000"/>
<rect x="779" y="197" width="3" height="3" fill="#ff0000"/>
<rect x="784" y="195" width="1" height="16" fill="#00ff00"/>
<rect x="783" y="199" width="3" height="8" fill="#00ff00"/>
<rect x="788" y="185" width="1" height="25" fill="#ff0000"/>
<rect x="787" y="197" width="3" height="10" fill="#ff0000"/>
<rect x="792" y="195" width="1" height="26" fill="#00ff00"/>
<rect x="791" y="197" width="3" height="19" fill="#00ff00"/>
<rect x="796" y="207" width="1" height="13" fill="#ff0000"/>
<rect x="795" y="214" width="3" height="2" fill="#ff0000"/>
<rect x="800" y="202" width="1" height="14" fill="#ff0000"/>
<rect x="799" y="210" width="3" height="6" fill="#ff0000"/>
<rect x="804" y="209" width="1" height="5" fill="#00ff00"/>
<rect x="803" y="210" width="3" height="3" fill="#00ff00"/>
<rect x="808" y="204" width="1" height="15" fill="#00ff00"/>
<rect x="807" y="210" width="3" height="3" fill="#00ff00"/>
<rect x="812" y="209" width="1" height="13" fill="#00ff00"/>
<rect x="811" y="209" width="3" height="13" fill="#00ff00"/>
<rect x="816" y="192" width="1" height="42" fill="#ff0000"/>
<rect x="815" y="202" width="3" height="21" fill="#ff0000"/>
<rect x="820" y="190" width="1" height="16" fill="#00ff00"/>
<rect x="819" y="202" width="3" height="2" fill="#00ff00"/>
<rect x="824" y="180" width="1" height="25" fill="#ff0000"/>
<rect x="823" y="184" width="3" height="20" fill="#ff0000"/>
<rect x="828" y="183" width="1" height="10" fill="#00ff00"/>
<rect x="827" y="184" width="3" height="8" fill="#00ff00"/>
<rect x="832" y="188" width="1" height="21" fill="#00ff00"/>
<rect x="831" y="191" width="3" height="11" fill="#00ff00"/>
<rect x="836" y="194" width="1" height="22" fill="#00ff00"/>
<rect x="835" y="197" width="3" height="5" fill="#00ff00"/>
<rect x="840" y="198" width="1" height="10" fill="#00ff00"/>
<rect x="839" y="201" width="3" height="3" fill="#00ff00"/>
<rect x="844" y="191" width="1" height="21" fill="#ff0000"/>
<rect x="843" y="195" width="3" height="10" fill="#ff0000"/>
<rect x="848" y="194" width="1" height="31" fill="#00ff00"/>
<rect x="847" y="195" width="3" height="24" fill="#00ff00"/>
<rect x="852" y="211" width="1" height="9" fill="#ff0000"/>
<rect x="851" y="214" width="3" height="6" fill="#ff0000"/>
<rect x="856" y="210" width="1" height="15" fill="#00ff00"/>
<rect x="855" y="214" width="3" height="5" fill="#00ff00"/>
<rect x="860" y="214" width="1" height="9" fill="#00ff00"/>
<rect x="859" y="215" width="3" height="7" fill="#00ff00"/>
<rect x="864" y="220" width="1" height="38" fill="#00ff00"/>
<rect x="863" y="221" width="3" height="36" fill="#00ff00"/>
<rect x="868" y="241" width="1" height="17" fill="#ff0000"/>
<rect x="867" y="244" width="3" height="13" fill="#ff0000"/>
<rect x="872" y="223" width="1" height="28" fill="#ff0000"/>
<rect x="871" y="226" width="3" height="18" fill="#ff0000"/>
<rect x="876" y="224" width="1" height="7" fill="#00ff00"/>
<rect x="875" y="227" width="3" height="1" fill="#00ff00"/>
<rect x="880" y="225" width="1" height="12" fill="#00ff00"/>
<rect x="879" y="227" width="3" height="8" fill="#00ff00"/>
<rect x="884" y="231" width="1" height="24" fill="#00ff00"/>
<rect x="883" y="234" width="3" height="16" fill="#00ff00"/>
<rect x="888" y="240" width="1" height="19" fill="#00ff00"/>
<rect x="887" y="249" width="3" height="8" fill="#00ff00"/>
<rect x="892" y="245" width="1" height="17" fill="#ff0000"/>
<rect x="891" y="246" width="3" height="10" fill="#ff0000"/>
<rect x="896" y="241" width="1" height="11" fill="#00ff00"/>
<rect x="895" y="247" width="3" height="4" fill="#00ff00"/>
<rect x="900" y="246" width="1" height="6" fill="#ff0000"/>
<rect x="899" y="248" width="3" height="1" fill="#ff0000"/>
<rect x="904" y="248" width="1" height="11" fill="#00ff00"/>
<rect x="903" y="249" width="3" height="9" fill="#00ff00"/>
<rect x="908" y="256" width="1" height="23" fill="#00ff00"/>
<rect x="907" y="257" width="3" height="19" fill="#00ff00"/>
<rect x="912" y="268" width="1" height="17" fill="#ff0000"/>
<rect x="911" y="273" width="3" height="3" fill="#ff0000"/>
<rect x="916" y="262" width="1" height="16" fill="#00ff00"/>
<rect x="915" y="269" width="3" height="8" fill="#00ff00"/>
<rect x="920" y="263" width="1" height="25" fill="#ff0000"/>
<rect x="919" y="266" width="3" height="11" fill="#ff0000"/>
<rect x="924" y="263" width="1" height="5" fill="#ff0000"/>
<rect x="923" y="264" width="3" height="3" fill="#ff0000"/>
<rect x="928" y="267" width="1" height="13" fill="#00ff00"/>
<rect x="927" y="268" width="3" height="7" fill="#00ff00"/>
<rect x="932" y="269" width="1" height="14" fill="#00ff00"/>
<rect x="931" y="271" width="3" height="2" fill="#00ff00"/>
<rect x="936" y="271" width="1" height="27" fill="#00ff00"/>
<rect x="935" y="273" width="3" height="21" fill="#00ff00"/>
<rect x="940" y="291" width="1" height="17" fill="#00ff00"/>
<rect x="939" y="292" width="3" height="4" fill="#00ff00"/>
<rect x="944" y="287" width="1" height="29" fill="#00ff00"/>
<rect x="943" y="292" width="3" height="20" fill="#00ff00"/>
<rect x="948" y="310" width="1" height="4" fill="#00ff00"/>
<rect x="947" y="310" width="3" height="3" fill="#00ff00"/>
<rect x="952" y="312" width="1" height="15" fill="#00ff00"/>
<rect x="951" y="313" width="3" height="8" fill="#00ff00"/>
<rect x="956" y="319" width="1" height="32" fill="#00ff00"/>
<rect x="955" y="320" width="3" height="16" fill="#00ff00"/>
<rect x="960" y="328" width="1" height="16" fill="#ff0000"/>
<rect x="959" y="333" width="3" height="2" fill="#ff0000"/>
<rect x="964" y="322" width="1" height="20" fill="#ff0000"/>
<rect x="963" y="322" width="3" height="12" fill="#ff0000"/>
<rect x="968" y="320" width="1" height="11" fill="#00ff00"/>
<rect x="967" y="322" width="3" height="4" fill="#00ff00"/>
<rect x="972" y="324" width="1" height="10" fill="#00ff00"/>
<rect x="971" y="325" width="3" height="8" fill="#00ff00"/>
<rect x="976" y="329" width="1" height="10" fill="#00ff00"/>
<rect x="975" y="330" width="3" height="5" fill="#00ff00"/>
<rect x="980" y="316" width="1" height="23" fill="#ff0000"/>
<rect x="979" y="319" width="3" height="16" fill="#ff0000"/>
<rect x="984" y="313" width="1" height="22" fill="#00ff00"/>
<rect x="983" y="318" width="3" height="16" fill="#00ff00"/>
<rect x="988" y="325" width="1" height="16" fill="#00ff00"/>
<rect x="987" y="332" width="3" height="3" fill="#00ff00"/>
<rect x="992" y="324" width="1" height="13" fill="#ff0000"/>
<rect x="991" y="332" width="3" height="4" fill="#ff0000"/>
<rect x="996" y="330" width="1" height="5" fill="#00ff00"/>
<rect x="995" y="331" width="3" height="3" fill="#00ff00"/>
<rect x="1000" y="332" width="1" height="25" fill="#00ff00"/>
<rect x="999" y="333" width="3" height="23" fill="#00ff00"/>
<rect x="1004" y="352" width="1" height="35" fill="#00ff00"/>
<rect x="1003" y="353" width="3" height="23" fill="#00ff00"/>
<rect x="1008" y="371" width="1" height="27" fill="#00ff00"/>
<rect x="1007" y="374" width="3" height="22" fill="#00ff00"/>
<rect x="1012" y="373" width="1" height="33" fill="#ff0000"/>
<rect x="1011" y="388" width="3" height="8" fill="#ff0000"/>
<rect x="1016" y="382" width="1" height="21" fill="#ff0000"/>
<rect x="1015" y="383" width="3" height="10" fill="#ff0000"/>
<rect x="1020" y="376" width="1" height="8" fill="#ff0000"/>
<rect x="1019" y="377" width="3" height="7" fill="#ff0000"/>
<rect x="1024" y="353" width="1" height="44" fill="#ff0000"/>
<rect x="1023" y="355" width="3" height="31" fill="#ff0000"/>
<rect x="1028" y="354" width="1" height="28" fill="#00ff00"/>
<rect x="1027" y="355" width="3" height="19" fill="#00ff00"/>
<rect x="1032" y="344" width="1" height="33" fill="#ff0000"/>
<rect x="1031" y="345" width="3" height="26" fill="#ff0000"/>
<rect x="1036" y="324" width="1" height="26" fill="#ff0000"/>
<rect x="1035" y="332" width="3" height="14" fill="#ff0000"/>
<rect x="1040" y="325" width="1" height="30" fill="#ff0000"/>
<rect x="1039" y="332" width="3" height="1" fill="#ff0000"/>
<rect x="1044" y="332" width="1" height="8" fill="#00ff00"/>
<rect x="1043" y="332" width="3" height="6" fill="#00ff00"/>
<rect x="1048" y="333" width="1" height="18" fill="#00ff00"/>
<rect x="1047" y="337" width="3" height="13" fill="#00ff00"/>
<rect x="1052" y="336" width="1" height="17" fill="#ff0000"/>
<rect x="1051" y="341" width="3" height="9" fill="#ff0000"/>
<rect x="1056" y="339" width="1" height="35" fill="#00ff00"/>
<rect x="1055" y="340" width="3" height="31" fill="#00ff00"/>
<rect x="1060" y="367" width="1" height="47" fill="#00ff00"/>
<rect x="1059" y="369" width="3" height="34" fill="#00ff00"/>
<rect x="1064" y="377" width="1" height="27" fill="#ff0000"/>
<rect x="1063" y="391" width="3" height="12" fill="#ff0000"/>
<rect x="1068" y="390" width="1" height="10" fill="#00ff00"/>
<rect x="1067" y="391" width="3" height="5" fill="#00ff00"/>
<rect x="1072" y="393" width="1" height="35" fill="#00ff00"/>
<rect x="1071" y="394" width="3" height="27" fill="#00ff00"/>
<rect x="1076" y="409" width="1" height="16" fill="#ff0000"/>
<rect x="1075" y="410" width="3" height="12" fill="#ff0000"/>
<rect x="1080" y="395" width="1" height="22" fill="#00ff00"/>
<rect x="1079" y="410" width="3" height="4" fill="#00ff00"/>
<rect x="1084" y="400" width="1" height="18" fill="#ff0000"/>
<rect x="1083" y="406" width="3" height="4" fill="#ff0000"/>
<rect x="1088" y="405" width="1" height="50" fill="#00ff00"/>
<rect x="1087" y="406" width="3" height="43" fill="#00ff00"/>
<rect x="1092" y="443" width="1" height="9" fill="#ff0000"/>
<rect x="1091" y="446" width="3" height="4" fill="#ff0000"/>
<rect x="1096" y="396" width="1" height="36" fill="#ff0000"/>
<rect x="1095" y="402" width="3" height="14" fill="#ff0000"/>
<rect x="1100" y="387" width="1" height="27" fill="#00ff00"/>
<rect x="1099" y="402" width="3" height="4" fill="#00ff00"/>
<rect x="1104" y="400" width="1" height="34" fill="#00ff00"/>
<rect x="1103" y="405" width="3" height="25" fill="#00ff00"/>
<rect x="1108" y="414" width="1" height="22" fill="#ff0000"/>
<rect x="1107" y="424" width="3" height="6" fill="#ff0000"/>
<rect x="1112" y="421" width="1" height="28" fill="#00ff00"/>
<rect x="1111" y="424" width="3" height="20" fill="#00ff00"/>
<rect x="1116" y="440" width="1" height="4" fill="#ff0000"/>
<rect x="1115" y="441" width="3" height="3" fill="#ff0000"/>
<rect x="1120" y="437" width="1" height="25" fill="#00ff00"/>
<rect x="1119" y="441" width="3" height="15" fill="#00ff00"/>
<rect x="1124" y="448" width="1" height="20" fill="#00ff00"/>
<rect x="1123" y="456" width="3" height="11" fill="#00ff00"/>
<rect x="1128" y="463" width="1" height="30" fill="#00ff00"/>
<rect x="1127" y="466" width="3" height="18" fill="#00ff00"/>
<rect x="1132" y="455" width="1" height="33" fill="#ff0000"/>
<rect x="1131" y="462" width="3" height="22" fill="#ff0000"/>
<rect x="1136" y="450" width="1" height="27" fill="#ff0000"/>
<rect x="1135" y="461" width="3" height="2" fill="#ff0000"/>
<rect x="1140" y="458" width="1" height="6" fill="#00ff00"/>
<rect x="1139" y="459" width="3" height="4" fill="#00ff00"/>
<rect x="1144" y="424" width="1" height="42" fill="#ff0000"/>
<rect x="1143" y="435" width="3" height="30" fill="#ff0000"/>
<rect x="1148" y="419" width="1" height="29" fill="#ff0000"/>
<rect x="1147" y="434" width="3" height="2" fill="#ff0000"/>
<rect x="1152" y="408" width="1" height="31" fill="#ff0000"/>
<rect x="1151" y="415" width="3" height="21" fill="#ff0000"/>
<rect x="1156" y="410" width="1" height="28" fill="#00ff00"/>
<rect x="1155" y="415" width="3" height="8" fill="#00ff00"/>
<rect x="1160" y="421" width="1" height="36" fill="#00ff00"/>
<rect x="1159" y="422" width="3" height="20" fill="#00ff00"/>
<rect x="1164" y="438" width="1" height="9" fill="#00ff00"/>
<rect x="1163" y="440" width="3" height="2" fill="#00ff00"/>
<rect x="1168" y="435" width="1" height="14" fill="#00ff00"/>
<rect x="1167" y="440" width="3" height="4" fill="#00ff00"/>
<rect x="1172" y="440" width="1" height="17" fill="#00ff00"/>
<rect x="1171" y="442" width="3" height="12" fill="#00ff00"/>
<rect x="1176" y="380" width="1" height="104" fill="#00ff00"/>
<rect x="1175" y="452" width="3" height="30" fill="#00ff00"/>
<rect x="1180" y="467" width="1" height="47" fill="#00ff00"/>
<rect x="1179" y="480" width="3" height="28" fill="#00ff00"/>
<rect x="1184" y="506" width="1" height="20" fill="#00ff00"/>
<rect x="1183" y="507" width="3" height="15" fill="#00ff00"/>
<rect x="1188" y="520" width="1" height="7" fill="#00ff00"/>
<rect x="1187" y="521" width="3" height="5" fill="#00ff00"/>
<rect x="1192" y="484" width="1" height="73" fill="#ff0000"/>
<rect x="1191" y="494" width="3" height="34" fill="#ff0000"/>
<rect x="1196" y="477" width="1" height="49" fill="#00ff00"/>
<rect x="1195" y="494" width="3" height="18" fill="#00ff00"/>
<rect x="1200" y="492" width="1" height="38" fill="#ff0000"/>
<rect x="1199" y="499" width="3" height="13" fill="#ff0000"/>
<rect x="1204" y="488" width="1" height="26" fill="#00ff00"/>
<rect x="1203" y="499" width="3" height="13" fill="#00ff00"/>
<rect x="1208" y="495" width="1" height="19" fill="#ff0000"/>
<rect x="1207" y="506" width="3" height="6" fill="#ff0000"/>
<rect x="1212" y="505" width="1" height="11" fill="#00ff00"/>
<rect x="1211" y="506" width="3" height="9" fill="#00ff00"/>
<rect x="1216" y="520" width="1" height="22" fill="#00ff00"/>
<rect x="1215" y="522" width="3" height="15" fill="#00ff00"/>
<rect x="1220" y="532" width="1" height="26" fill="#00ff00"/>
<rect x="1219" y="536" width="3" height="16" fill="#00ff00"/>
<rect x="1224" y="540" width="1" height="29" fill="#ff0000"/>
<rect x="1223" y="549" width="3" height="3" fill="#ff0000"/>
<rect x="1228" y="522" width="1" height="31" fill="#ff0000"/>
<rect x="1227" y="532" width="3" height="18" fill="#ff0000"/>
<rect x="1232" y="529" width="1" height="23" fill="#00ff00"/>
<rect x="1231" y="532" width="3" height="17" fill="#00ff00"/>
<rect x="1236" y="547" width="1" height="7" fill="#00ff00"/>
<rect x="1235" y="548" width="3" height="5" fill="#00ff00"/>
<rect x="1240" y="526" width="1" height="33" fill="#ff0000"/>
<rect x="1239" y="526" width="3" height="23" fill="#ff0000"/>
<rect x="1244" y="517" width="1" height="23" fill="#ff0000"/>
<rect x="1243" y="525" width="3" height="1" fill="#ff0000"/>
<rect x="1248" y="525" width="1" height="18" fill="#00ff00"/>
<rect x="1247" y="525" width="3" height="10" fill="#00ff00"/>
<rect x="1252" y="534" width="1" height="17" fill="#00ff00"/>
<rect x="1251" y="534" width="3" height="9" fill="#00ff00"/>
<rect x="1256" y="530" width="1" height="14" fill="#ff0000"/>
<rect x="1255" y="539" width="3" height="4" fill="#ff0000"/>
<rect x="1260" y="536" width="1" height="4" fill="#ff0000"/>
<rect x="1259" y="537" width="3" height="3" fill="#ff0000"/>
<rect x="1264" y="525" width="1" height="18" fill="#ff0000"/>
<rect x="1263" y="531" width="3" height="6" fill="#ff0000"/>
<rect x="1268" y="526" width="1" height="8" fill="#000000"/>
<rect x="1267" y="531" width="3" height="1" fill="#000000"/>
<path d="M650 105.5h3M646 106.5h4M653 106.5h2M642 107.5h4M655 107.5h3M638 108.5h4M658 108.5h3M635 109.5h3M661 109.5h2M633 110.5h2M663 110.5h2M630 111.5h3M665 111.5h2M627 112.5h3M667 112.5h3M625 113.5h2M670 113.5h4M624 114.5h1M674 114.5h8M622 115.5h2M682 115.5h4M621 116.5h1M686 116.5h8M618 117.5h3M694 117.5h4M615 118.5h3M698 118.5h4M613 119.5h2M702 119.5h4M611 120.5h2M706 120.5h3M609 121.5h2M709 121.5h2M606 122.5h3M711 122.5h2M602 123.5h4M713 123.5h2M598 124.5h4M715 124.5h6M595 125.5h3M721 125.5h2M593 126.5h2M723 126.5h3M591 127.5h2M726 127.5h3M589 128.5h2M729 128.5h2M587 129.5h2M731 129.5h2M585 130.5h2M733 130.5h2M583 131.5h2M735 131.5h3M581 132.5h2M738 132.5h3M579 133.5h2M741 133.5h1M499 134.5h6M577 134.5h2M742 134.5h1M497 135.5h2M505 135.5h2M574 135.5h3M743 135.5h1M495 136.5h2M507 136.5h7M550 136.5h8M570 136.5h4M744 136.5h1M493 137.5h2M514 137.5h4M546 137.5h4M558 137.5h12M745 137.5h2M490 138.5h3M518 138.5h7M538 138.5h8M747 138.5h2M487 139.5h3M525 139.5h2M534 139.5h4M749 139.5h2M485 140.5h2M527 140.5h7M751 140.5h2M482 141.5h3M753 141.5h1M480 142.5h2M754 142.5h2M478 143.5h2M756 143.5h1M477 144.5h1M757 144.5h1M475 145.5h2M758 145.5h2M473 146.5h2M760 146.5h1M472 147.5h1M761 147.5h2M470 148.5h2M763 148.5h2M469 149.5h1M765 149.5h1M467 150.5h2M766 150.5h2M465 151.5h2M768 151.5h1M464 152.5h1M769 152.5h1M462 153.5h2M770 153.5h2M461 154.5h1M772 154.5h1M460 155.5h1M773 155.5h2M458 156.5h2M775 156.5h2M457 157.5h1M777 157.5h2M456 158.5h1M779 158.5h3M455 159.5h1M782 159.5h3M454 160.5h1M785 160.5h2M453 161.5h1M787 161.5h2M452 162.5h1M789 162.5h2M450 163.5h2M791 163.5h2M449 164.5h1M793 164.5h2M448 165.5h1M795 165.5h2M447 166.5h1M797 166.5h2M446 167.5h1M799 167.5h2M445 168.5h1M801 168.5h2M444 169.5h1M803 169.5h2M442 170.5h2M805 170.5h1M441 171.5h1M806 171.5h2M440 172.5h1M808 172.5h1M439 173.5h1M809 173.5h2M438 174.5h1M811 174.5h2M437 175.5h1M813 175.5h1M435 176.5h2M814 176.5h2M433 177.5h2M816 177.5h1M431 178.5h2M817 178.5h2M429 179.5h2M819 179.5h3M426 180.5h3M822 180.5h4M424 181.5h2M826 181.5h3M422 182.5h2M829 182.5h2M58 183.5h4M421 183.5h1M831 183.5h3M4 184.5h10M50 184.5h8M62 184.5h8M418 184.5h3M834 184.5h3M14 185.5h24M42 185.5h8M70 185.5h20M415 185.5h3M837 185.5h2M38 186.5h4M90 186.5h4M413 186.5h2M839 186.5h2M94 187.5h4M410 187.5h3M841 187.5h2M98 188.5h3M408 188.5h2M843 188.5h2M101 189.5h2M406 189.5h2M845 189.5h2M103 190.5h3M405 190.5h1M847 190.5h2M106 191.5h4M404 191.5h1M849 191.5h1M110 192.5h3M402 192.5h2M850 192.5h2M113 193.5h2M401 193.5h1M852 193.5h1M115 194.5h2M400 194.5h1M853 194.5h2M117 195.5h2M398 195.5h2M855 195.5h2M119 196.5h2M397 196.5h1M857 196.5h1M121 197.5h2M396 197.5h1M858 197.5h2M123 198.5h2M395 198.5h1M860 198.5h1M125 199.5h2M394 199.5h1M861 199.5h1M127 200.5h2M393 200.5h1M862 200.5h2M129 201.5h2M392 201.5h1M864 201.5h1M131 202.5h2M390 202.5h2M865 202.5h1M133 203.5h2M389 203.5h1M866 203.5h2M135 204.5h2M388 204.5h1M868 204.5h1M137 205.5h1M323 205.5h3M387 205.5h1M869 205.5h1M138 206.5h2M321 206.5h2M326 206.5h4M386.5 206v2M870 206.5h2M140 207.5h1M318 207.5h3M330 207.5h4M872 207.5h1M141 208.5h1M315 208.5h3M334 208.5h3M385 208.5h1M873 208.5h2M142 209.5h2M313 209.5h2M337 209.5h2M383 209.5h2M875 209.5h2M144 210.5h1M312 210.5h1M339 210.5h3M381 210.5h2M877 210.5h2M145 211.5h1M310 211.5h2M342 211.5h3M379 211.5h2M879 211.5h2M146 212.5h2M309 212.5h1M345 212.5h2M377 212.5h2M881 212.5h2M148 213.5h1M308 213.5h1M347 213.5h2M370 213.5h7M883 213.5h3M149 214.5h1M306 214.5h2M349 214.5h2M363 214.5h7M886 214.5h3M150 215.5h2M305 215.5h1M351 215.5h3M361 215.5h2M889 215.5h2M152 216.5h1M304 216.5h1M354 216.5h7M891 216.5h3M153 217.5h1M303 217.5h1M894 217.5h3M154 218.5h2M302 218.5h1M897 218.5h2M156 219.5h1M301 219.5h1M899 219.5h2M157 220.5h1M300 220.5h1M901 220.5h2M158 221.5h2M299 221.5h1M903 221.5h2M160 222.5h1M298.5 222v2M905 222.5h2M161 223.5h1M907 223.5h2M162 224.5h1M297 224.5h1M909 224.5h2M163 225.5h1M296 225.5h1M911 225.5h2M164 226.5h1M295 226.5h1M913 226.5h2M165 227.5h1M294 227.5h1M915 227.5h2M166 228.5h1M293 228.5h1M917 228.5h2M167 229.5h1M292 229.5h1M919 229.5h2M168 230.5h1M291 230.5h1M921 230.5h2M169 231.5h2M290 231.5h1M923 231.5h2M171 232.5h2M289 232.5h1M925 232.5h2M173 233.5h1M288 233.5h1M927 233.5h2M174 234.5h1M286 234.5h2M929 234.5h2M175 235.5h1M285 235.5h1M931 235.5h2M176 236.5h1M284 236.5h1M933 236.5h1M177 237.5h1M282 237.5h2M934 237.5h2M178 238.5h1M281 238.5h1M936 238.5h1M179 239.5h1M280 239.5h1M937 239.5h1M180 240.5h1M278 240.5h2M938 240.5h2M181 241.5h1M277 241.5h1M940 241.5h1M182 242.5h2M275 242.5h2M941 242.5h1M184 243.5h1M273 243.5h2M942 243.5h1M185 244.5h2M271 244.5h2M943 244.5h1M187 245.5h2M269 245.5h2M944 245.5h1M189 246.5h2M266 246.5h3M945 246.5h1M191 247.5h2M262 247.5h4M946 247.5h1M193 248.5h2M258 248.5h4M947 248.5h1M195 249.5h2M251 249.5h7M948 249.5h1M197 250.5h2M249 250.5h2M949 250.5h1M199 251.5h3M246 251.5h3M950 251.5h1M202 252.5h4M234 252.5h12M951 252.5h1M206 253.5h4M230 253.5h4M952 253.5h1M210 254.5h4M222 254.5h8M953 254.5h1M214 255.5h8M954.5 255v2M955 257.5h1M956 258.5h1M957 259.5h1M958 260.5h1M959 261.5h1M960 262.5h1M961 263.5h1M962 264.5h1M963 265.5h1M964 266.5h1M965 267.5h1M966 268.5h1M967 269.5h1M968 270.5h1M969 271.5h1M970 272.5h1M971 273.5h1M972 274.5h1M973 275.5h1M974 276.5h1M975 277.5h1M976 278.5h1M977 279.5h1M978 280.5h2M980 281.5h1M981 282.5h2M983 283.5h2M985 284.5h1M986 285.5h2M988 286.5h1M989 287.5h1M990 288.5h1M991 289.5h1M992 290.5h1M993 291.5h1M994 292.5h2M996 293.5h1M997 294.5h1M998 295.5h1M999 296.5h1M1000 297.5h1M1001 298.5h1M1002.5 299v2M1003 301.5h1M1004 302.5h1M1005 303.5h1M1006 304.5h1M1007 305.5h1M1008 306.5h1M1009 307.5h1M1010.5 308v2M1011 310.5h1M1012 311.5h1M1013 312.5h1M1014 313.5h1M1015 314.5h1M1016 315.5h1M1017 316.5h1M1018.5 317v2M1019 319.5h1M1020 320.5h1M1021 321.5h1M1022 322.5h2M1024 323.5h1M1025 324.5h1M1026 325.5h2M1028 326.5h1M1029 327.5h1M1030 328.5h2M1032 329.5h1M1033 330.5h2M1035 331.5h2M1037 332.5h2M1039 333.5h2M1041 334.5h2M1043 335.5h2M1045 336.5h1M1046 337.5h2M1048 338.5h1M1049 339.5h2M1051 340.5h2M1053 341.5h1M1054 342.5h2M1056 343.5h1M1057 344.5h1M1058 345.5h2M1060 346.5h1M1061 347.5h1M1062 348.5h2M1064 349.5h1M1065 350.5h1M1066 351.5h2M1068 352.5h1M1069 353.5h1M1070 354.5h2M1072 355.5h1M1073 356.5h2M1075 357.5h2M1077 358.5h1M1078 359.5h2M1080 360.5h1M1081 361.5h1M1082 362.5h2M1084 363.5h1M1085 364.5h1M1086 365.5h1M1087 366.5h1M1088 367.5h1M1089 368.5h1M1090 369.5h1M1091 370.5h1M1092 371.5h1M1093 372.5h2M1095 373.5h2M1097 374.5h1M1098 375.5h2M1100 376.5h1M1101 377.5h1M1102 378.5h2M1104 379.5h1M1105 380.5h1M1106 381.5h2M1108 382.5h1M1109 383.5h1M1110 384.5h1M1111 385.5h1M1112 386.5h1M1113 387.5h1M1114 388.5h2M1116 389.5h1M1117 390.5h1M1118 391.5h1M1119 392.5h1M1120 393.5h1M1121 394.5h1M1122 395.5h2M1124 396.5h1M1125 397.5h1M1126 398.5h2M1128 399.5h1M1129 400.5h2M1131 401.5h2M1133 402.5h1M1134 403.5h2M1136 404.5h1M1137 405.5h1M1138 406.5h2M1140 407.5h1M1141 408.5h2M1143 409.5h2M1145 410.5h2M1147 411.5h2M1149 412.5h1M1150 413.5h2M1152 414.5h1M1153 415.5h1M1154 416.5h2M1156 417.5h1M1157 418.5h1M1158 419.5h2M1160 420.5h1M1161 421.5h1M1162 422.5h1M1163 423.5h1M1164 424.5h1M1165 425.5h1M1166 426.5h2M1168 427.5h1M1169 428.5h1M1170 429.5h1M1171 430.5h1M1172 431.5h1M1173 432.5h1M1174 433.5h2M1176 434.5h1M1177 435.5h1M1178 436.5h1M1179 437.5h1M1180 438.5h1M1181 439.5h1M1182 440.5h1M1183 441.5h1M1184 442.5h1M1185 443.5h1M1186 444.5h1M1187 445.5h1M1188 446.5h1M1189 447.5h1M1190 448.5h2M1192 449.5h1M1193 450.5h1M1194 451.5h2M1196 452.5h1M1197 453.5h1M1198 454.5h2M1200 455.5h1M1201 456.5h1M1202 457.5h1M1203 458.5h1M1204 459.5h1M1205 460.5h2M1207 461.5h2M1209 462.5h2M1211 463.5h2M1213 464.5h1M1214 465.5h1M1215 466.5h1M1216 467.5h1M1217 468.5h1M1218.5 469v2M1219 471.5h1M1220 472.5h1M1221 473.5h1M1222 474.5h1M1223 475.5h1M1224 476.5h1M1225 477.5h1M1226 478.5h1M1227 479.5h1M1228 480.5h1M1229 481.5h1M1230 482.5h2M1232 483.5h1M1233 484.5h1M1234 485.5h1M1235 486.5h1M1236 487.5h1M1237 488.5h2M1239 489.5h2M1241 490.5h2M1243 491.5h2M1245 492.5h2M1247 493.5h2M1249 494.5h1M1250 495.5h2M1252 496.5h1M1253 497.5h2M1255 498.5h2M1257 499.5h1M1258 500.5h2M1260 501.5h1M1261 502.5h1M1262 503.5h2M1264 504.5h1M1265 505.5h1M1266 506.5h2M1268 507.5h1" fill="none" stroke="#0000cd" stroke-width="1"/>
<path d="M635 94.5h7M633 95.5h2M642 95.5h4M632 96.5h1M646 96.5h7M630 97.5h2M653 97.5h2M629 98.5h1M655 98.5h2M628 99.5h1M657 99.5h1M627 100.5h1M658 100.5h2M626 101.5h1M660 101.5h1M625 102.5h1M661 102.5h1M624 103.5h1M662 103.5h1M623 104.5h1M663 104.5h1M622 105.5h1M664 105.5h1M621 106.5h1M665 106.5h1M620 107.5h1M666 107.5h1M618 108.5h2M667 108.5h1M617 109.5h1M668 109.5h1M616 110.5h1M669 110.5h1M614 111.5h2M670.5 111v2M613 112.5h1M612 113.5h1M671 113.5h1M588 114.5h5M610 114.5h2M672 114.5h1M586 115.5h2M593 115.5h2M609 115.5h1M673 115.5h1M585 116.5h1M595 116.5h3M606 116.5h3M674.5 116v2M584 117.5h1M598 117.5h8M439 118.5h2M582 118.5h2M675 118.5h1M437 119.5h2M441 119.5h2M581 119.5h1M676 119.5h1M436 120.5h1M443 120.5h3M579 120.5h2M677.5 120v2M434 121.5h2M446 121.5h3M577 121.5h2M433 122.5h1M449 122.5h1M574 122.5h3M678 122.5h1M432 123.5h1M450.5 123v2M562 123.5h12M679.5 123v2M431.5 124v2M552 124.5h10M451 125.5h1M550 125.5h2M680 125.5h1M430.5 126v2M452 126.5h1M549 126.5h1M681 126.5h1M453 127.5h1M547 127.5h2M682 127.5h1M429.5 128v2M454 128.5h2M545 128.5h2M683 128.5h1M456 129.5h2M544 129.5h1M684 129.5h1M428 130.5h1M458 130.5h3M542 130.5h2M685 130.5h1M426 131.5h2M461 131.5h1M541 131.5h1M686 131.5h1M425 132.5h1M462.5 132v2M540 132.5h1M687 132.5h1M424 133.5h1M538 133.5h2M688 133.5h1M423 134.5h1M463 134.5h1M537 134.5h1M689 134.5h1M422.5 135v2M464 135.5h1M536 135.5h1M690 135.5h1M465 136.5h1M535 136.5h1M691 136.5h1M421 137.5h1M466 137.5h2M534 137.5h1M692 137.5h1M420 138.5h1M468 138.5h1M533 138.5h1M693 138.5h1M418 139.5h2M469 139.5h2M530 139.5h3M694 139.5h2M417 140.5h1M471 140.5h2M527 140.5h3M696 140.5h1M416.5 141v2M473 141.5h1M525 141.5h2M697 141.5h2M474 142.5h2M523 142.5h2M699 142.5h2M415.5 143v2M476 143.5h1M521 143.5h2M701 143.5h2M477 144.5h1M520 144.5h1M703 144.5h2M730 144.5h8M414.5 145v2M478 145.5h2M518 145.5h2M705 145.5h2M727 145.5h3M738 145.5h4M480 146.5h5M517 146.5h1M707 146.5h3M725 146.5h2M742 146.5h4M413.5 147v2M485 147.5h2M515 147.5h2M710 147.5h4M718 147.5h7M746 147.5h4M487 148.5h6M513 148.5h2M714 148.5h4M750 148.5h4M412 149.5h1M493 149.5h2M510 149.5h3M754 149.5h3M411.5 150v2M495 150.5h3M507 150.5h3M757 150.5h1M498 151.5h4M505 151.5h2M758 151.5h2M410.5 152v2M502 152.5h3M760 152.5h1M761 153.5h1M409.5 154v2M762 154.5h2M764 155.5h1M408.5 156v2M765 156.5h1M766 157.5h2M407.5 158v2M768 158.5h1M769 159.5h1M406.5 160v3M770 160.5h2M772 161.5h1M773 162.5h1M405.5 163v2M774 163.5h1M775 164.5h1M404.5 165v3M776 165.5h1M777 166.5h1M778 167.5h1M403.5 168v2M779 168.5h1M780 169.5h1M402.5 170v2M781 170.5h1M782.5 171v2M401.5 172v2M783 173.5h1M400.5 174v2M784 174.5h1M26 175.5h12M785 175.5h1M20 176.5h6M38 176.5h4M399.5 176v3M786 176.5h1M19 177.5h1M42 177.5h8M787 177.5h1M18 178.5h1M50 178.5h3M788 178.5h1M17 179.5h1M53 179.5h2M398.5 179v2M789 179.5h1M16 180.5h1M55 180.5h3M790.5 180v2M15 181.5h1M58 181.5h3M397.5 181v3M14 182.5h1M61 182.5h2M791 182.5h1M13 183.5h1M63 183.5h2M792 183.5h1M4 184.5h9M65 184.5h1M396.5 184v3M793 184.5h1M66 185.5h2M794.5 185v2M68 186.5h1M69 187.5h2M395.5 187v3M795 187.5h1M71 188.5h2M796 188.5h1M73 189.5h1M797 189.5h1M74.5 190v2M394.5 190v2M798 190.5h1M799 191.5h1M75 192.5h1M393.5 192v3M800 192.5h1M76 193.5h1M801 193.5h1M77 194.5h2M802 194.5h1M79 195.5h2M392.5 195v3M803 195.5h1M81 196.5h1M318 196.5h7M804 196.5h1M82 197.5h2M315 197.5h3M325 197.5h2M805 197.5h1M84 198.5h2M313 198.5h2M327 198.5h2M391.5 198v3M806 198.5h1M86 199.5h4M311 199.5h2M329 199.5h1M807 199.5h1M90 200.5h4M309 200.5h2M330 200.5h2M808 200.5h1M94 201.5h3M306 201.5h3M332 201.5h1M390.5 201v2M809 201.5h1M97 202.5h2M302 202.5h4M333 202.5h1M810.5 202v2M99 203.5h2M300 203.5h2M334 203.5h2M389.5 203v3M101 204.5h1M298 204.5h2M336 204.5h1M811 204.5h1M827 204.5h3M102 205.5h2M106 205.5h3M297 205.5h1M337 205.5h1M812 205.5h2M825 205.5h2M830 205.5h28M104 206.5h2M109 206.5h2M296 206.5h1M338 206.5h1M388.5 206v3M814 206.5h4M822 206.5h3M858 206.5h3M111 207.5h2M295 207.5h1M339 207.5h1M818 207.5h4M861 207.5h1M113 208.5h1M294 208.5h1M340 208.5h1M862 208.5h2M114 209.5h2M293 209.5h1M341 209.5h1M387.5 209v3M864 209.5h1M116 210.5h2M292 210.5h1M342 210.5h1M865 210.5h2M118 211.5h3M271 211.5h3M290 211.5h2M343 211.5h1M867 211.5h3M121 212.5h2M269 212.5h2M274 212.5h4M282 212.5h4M289 212.5h1M344 212.5h1M386.5 212v3M870 212.5h3M123 213.5h2M259 213.5h10M278 213.5h4M286 213.5h3M345.5 213v2M873 213.5h2M125 214.5h2M257 214.5h2M875 214.5h2M127 215.5h2M256 215.5h1M346 215.5h1M385.5 215v3M877 215.5h1M129 216.5h2M254 216.5h2M347.5 216v2M878 216.5h1M131 217.5h2M253 217.5h1M879 217.5h1M133 218.5h2M252 218.5h1M348 218.5h1M384.5 218v2M880 218.5h1M135 219.5h2M251 219.5h1M349 219.5h1M881 219.5h1M137 220.5h1M250 220.5h1M350.5 220v2M383.5 220v2M882 220.5h1M138 221.5h2M249 221.5h1M883 221.5h1M140 222.5h1M248 222.5h1M351 222.5h1M382.5 222v2M884 222.5h1M141 223.5h1M247 223.5h1M352 223.5h1M885 223.5h1M142 224.5h2M246.5 224v2M353 224.5h1M381.5 224v2M886 224.5h1M144 225.5h1M354 225.5h1M887 225.5h1M145 226.5h1M245 226.5h1M355 226.5h1M379 226.5h2M888 226.5h1M146.5 227v2M244 227.5h1M356 227.5h1M377 227.5h2M889 227.5h1M243 228.5h1M357 228.5h1M374 228.5h3M890 228.5h2M147 229.5h1M242 229.5h1M358 229.5h1M370 229.5h4M892 229.5h1M148 230.5h1M241 230.5h1M359 230.5h1M362 230.5h8M893 230.5h1M149 231.5h1M240 231.5h1M360 231.5h2M894 231.5h2M150.5 232v2M239.5 232v2M896 232.5h1M897 233.5h1M151 234.5h1M238 234.5h1M898 234.5h1M152 235.5h1M237.5 235v2M899 235.5h1M153 236.5h1M900 236.5h1M154 237.5h1M236 237.5h1M901 237.5h1M155 238.5h1M235.5 238v2M902 238.5h2M156 239.5h1M904 239.5h1M157.5 240v2M234.5 240v2M905 240.5h1M906 241.5h1M158 242.5h1M233.5 242v2M907 242.5h1M159.5 243v2M908 243.5h1M232.5 244v2M909 244.5h1M160 245.5h1M910 245.5h1M161.5 246v2M231.5 246v2M911 246.5h1M912 247.5h1M162 248.5h1M230.5 248v2M913 248.5h1M163.5 249v2M914 249.5h1M229.5 250v2M915 250.5h1M164 251.5h1M916 251.5h2M165 252.5h1M228 252.5h1M918 252.5h4M166.5 253v2M227.5 253v2M922 253.5h3M925 254.5h1M167 255.5h1M226.5 255v2M926 255.5h1M168 256.5h1M927 256.5h1M169 257.5h1M225.5 257v2M928 257.5h1M170 258.5h1M929 258.5h1M171 259.5h1M224 259.5h1M930 259.5h2M172 260.5h1M223 260.5h1M932 260.5h1M173 261.5h1M222.5 261v2M933 261.5h1M174.5 262v2M934 262.5h1M221 263.5h1M935 263.5h1M175 264.5h1M220 264.5h1M936 264.5h1M176 265.5h1M219.5 265v2M937 265.5h1M177 266.5h1M938 266.5h1M178.5 267v2M218.5 267v2M939 267.5h1M940 268.5h1M179 269.5h1M217.5 269v2M941 269.5h1M180 270.5h1M942 270.5h2M181.5 271v2M216 271.5h1M944 271.5h1M215 272.5h1M945 272.5h1M182 273.5h1M214 273.5h1M946.5 273v2M183.5 274v2M213 274.5h1M212 275.5h1M947 275.5h1M184 276.5h1M211 276.5h1M948 276.5h1M185 277.5h1M210 277.5h1M949 277.5h1M186 278.5h2M209 278.5h1M950.5 278v2M188 279.5h1M208 279.5h1M189 280.5h1M207 280.5h1M951 280.5h1M190 281.5h2M206 281.5h1M952 281.5h1M192 282.5h6M205 282.5h1M953.5 282v2M198 283.5h7M954 284.5h1M955.5 285v2M956 287.5h1M957.5 288v2M958 290.5h1M959.5 291v2M960 293.5h1M961 294.5h1M962 295.5h2M964 296.5h1M965 297.5h1M966 298.5h1M967 299.5h1M968 300.5h1M969 301.5h1M970 302.5h1M971 303.5h1M972 304.5h1M973 305.5h1M974.5 306v2M975 308.5h1M976 309.5h1M977 310.5h1M978 311.5h1M979 312.5h1M980 313.5h1M981 314.5h1M982 315.5h1M983 316.5h1M984 317.5h1M985 318.5h1M986 319.5h1M987 320.5h1M988 321.5h1M989 322.5h1M990 323.5h2M992 324.5h1M993 325.5h1M994 326.5h2M996 327.5h1M997 328.5h1M998 329.5h2M1000 330.5h1M1001 331.5h1M1002 332.5h1M1003 333.5h1M1004 334.5h1M1005.5 335v2M1006 337.5h1M1007.5 338v2M1008 340.5h1M1009 341.5h1M1010 342.5h1M1011 343.5h1M1012 344.5h1M1013 345.5h1M1014 346.5h2M1016 347.5h1M1017 348.5h1M1018 349.5h1M1019 350.5h1M1020 351.5h1M1021 352.5h2M1023 353.5h2M1025 354.5h1M1026 355.5h2M1028 356.5h2M1030 357.5h4M1034 358.5h12M1046 359.5h4M1050 360.5h4M1054 361.5h3M1057 362.5h2M1062 362.5h4M1059 363.5h3M1066 363.5h3M1069 364.5h1M1070 365.5h2M1072 366.5h1M1073 367.5h2M1075 368.5h2M1077 369.5h1M1078 370.5h1M1079 371.5h1M1080 372.5h1M1081 373.5h2M1083 374.5h2M1085.5 375v2M1086.5 377v2M1087.5 379v2M1088.5 381v2M1089.5 383v2M1090.5 385v2M1091.5 387v2M1092.5 389v2M1093 391.5h1M1094.5 392v2M1095 394.5h1M1096 395.5h1M1097 396.5h1M1098.5 397v2M1099 399.5h1M1100 400.5h1M1101.5 401v2M1102 403.5h1M1103.5 404v2M1104 406.5h1M1105.5 407v2M1106 409.5h1M1107.5 410v2M1108 412.5h1M1109 413.5h1M1110.5 414v2M1111 416.5h1M1112 417.5h1M1113 418.5h2M1115 419.5h2M1117 420.5h1M1118.5 421v2M1119 423.5h1M1120 424.5h1M1121 425.5h1M1122.5 426v2M1123 428.5h1M1124 429.5h1M1125 430.5h1M1126.5 431v2M1127 433.5h1M1128 434.5h1M1129 435.5h1M1130 436.5h2M1132 437.5h1M1133 438.5h1M1134 439.5h1M1135 440.5h1M1136 441.5h1M1137 442.5h1M1138 443.5h1M1146 443.5h4M1139 444.5h1M1142 444.5h4M1150 444.5h4M1140 445.5h2M1154 445.5h4M1158 446.5h4M1162 447.5h8M1170 448.5h3M1173 449.5h2M1175 450.5h2M1177 451.5h1M1178 452.5h2M1180 453.5h1M1181 454.5h1M1182 455.5h2M1184 456.5h1M1185 457.5h1M1186 458.5h1M1187 459.5h1M1188 460.5h1M1189 461.5h2M1191 462.5h2M1193 463.5h1M1194 464.5h1M1195 465.5h1M1196 466.5h1M1197 467.5h1M1198.5 468v2M1199 470.5h1M1200 471.5h1M1201 472.5h1M1202.5 473v2M1203 475.5h1M1204 476.5h1M1205.5 477v2M1206.5 479v2M1207.5 481v2M1208 483.5h1M1209.5 484v2M1210 486.5h1M1211.5 487v2M1212 489.5h1M1213.5 490v2M1214.5 492v2M1215.5 494v2M1216 496.5h1M1217.5 497v2M1218.5 499v2M1219.5 501v2M1220.5 503v2M1221.5 505v2M1222.5 507v2M1223.5 509v2M1224 511.5h1M1225.5 512v2M1226 514.5h1M1227.5 515v2M1228 517.5h1M1229 518.5h1M1230.5 519v2M1231 521.5h1M1232 522.5h1M1233 523.5h1M1234 524.5h2M1236 525.5h9M1245 526.5h1M1246 527.5h2M1248 528.5h1M1249 529.5h2M1251 530.5h2M1253 531.5h1M1254 532.5h2M1256 533.5h1M1257 534.5h2M1259 535.5h2M1261 536.5h2M1263 537.5h3M1266 538.5h3" fill="none" stroke="#ff0000" stroke-width="1"/>
<path d="M635 78.5h2M633 79.5h2M637 79.5h2M631 80.5h2M639 80.5h2M629 81.5h2M640 81.5h1M627 82.5h2M641.5 82v3M625 83.5h2M624.5 84v2M642.5 85v3M623.5 86v2M622.5 88v3M643.5 88v3M621.5 91v2M644.5 91v2M620.5 93v2M645.5 93v2M619.5 95v2M646 95.5h1M647.5 96v2M618 97.5h1M617.5 98v2M648 98.5h1M649.5 99v2M616 100.5h1M615.5 101v2M650.5 101v2M552.5 103v2M614 103.5h1M651.5 103v2M553 104.5h1M613.5 104v2M551.5 105v2M554.5 105v2M652.5 105v3M612 106.5h1M550.5 107v2M555 107.5h1M610 107.5h2M400 108.5h5M556 108.5h1M592 108.5h5M609 108.5h1M653.5 108v3M400.5 109v2M405 109.5h2M549.5 109v2M557.5 109v2M591 109.5h1M597 109.5h1M608 109.5h1M407 110.5h2M590 110.5h1M598 110.5h2M606 110.5h2M399.5 111v4M409.5 111v2M548 111.5h1M558.5 111v2M589 111.5h1M600 111.5h2M605 111.5h1M654.5 111v4M547.5 112v2M588 112.5h1M602 112.5h3M410.5 113v2M559.5 113v2M587 113.5h1M546.5 114v2M586 114.5h1M398.5 115v4M411.5 115v2M560.5 115v2M585 115.5h1M655.5 115v3M545.5 116v2M584 116.5h1M412 117.5h1M561 117.5h1M583.5 117v2M413 118.5h1M544 118.5h1M562.5 118v2M656.5 118v3M397.5 119v4M414 119.5h1M543.5 119v2M582 119.5h1M415 120.5h1M563 120.5h1M581.5 120v2M416 121.5h1M424 121.5h1M448.5 121v2M542.5 121v2M564 121.5h1M657.5 121v2M417.5 122v2M423.5 122v2M425.5 122v2M447 122.5h1M565 122.5h1M580 122.5h1M396.5 123v4M440 123.5h1M446 123.5h1M449.5 123v2M541.5 123v2M566 123.5h2M579 123.5h1M658.5 123v3M418 124.5h1M422 124.5h1M426.5 124v2M439 124.5h1M441 124.5h2M445 124.5h1M568 124.5h1M578.5 124v2M419.5 125v2M421.5 125v2M432 125.5h1M438.5 125v2M443 125.5h2M450.5 125v2M540 125.5h1M569 125.5h1M427.5 126v2M431 126.5h1M433 126.5h1M539.5 126v2M570 126.5h1M577 126.5h1M659.5 126v2M395.5 127v5M420 127.5h1M430 127.5h1M434 127.5h2M437 127.5h1M451.5 127v2M571 127.5h1M574 127.5h3M428 128.5h2M436 128.5h1M538.5 128v2M572 128.5h2M660.5 128v2M428 129.5h1M452.5 129v2M537.5 130v2M661.5 130v2M453 131.5h1M394.5 132v6M454 132.5h2M516 132.5h2M536 132.5h1M662.5 132v2M456.5 133v2M514 133.5h2M518 133.5h3M535.5 133v2M513 134.5h1M521 134.5h2M663.5 134v2M457.5 135v2M511 135.5h2M523 135.5h6M534.5 135v2M509 136.5h2M529 136.5h1M664.5 136v2M458.5 137v2M506 137.5h3M530 137.5h1M533.5 137v2M393.5 138v5M502 138.5h4M531 138.5h1M665.5 138v2M459.5 139v2M500 139.5h2M532 139.5h1M499 140.5h1M666 140.5h1M698 140.5h4M460.5 141v3M498.5 141v2M667.5 141v2M695 141.5h3M702 141.5h4M736 141.5h2M693 142.5h2M706 142.5h3M735 142.5h1M738 142.5h3M392.5 143v4M497 143.5h1M668.5 143v2M692 143.5h1M709 143.5h1M734 143.5h1M741 143.5h2M461.5 144v2M496 144.5h1M691 144.5h1M710 144.5h1M733 144.5h1M743 144.5h2M495 145.5h1M669.5 145v2M690.5 145v2M711 145.5h1M732 145.5h1M745 145.5h1M462.5 146v3M494.5 146v2M712 146.5h1M731 146.5h1M746 146.5h2M391.5 147v4M670.5 147v3M689 147.5h1M713 147.5h1M730.5 147v2M748 147.5h1M493 148.5h1M686 148.5h3M714.5 148v2M749 148.5h1M463.5 149v2M492 149.5h1M684 149.5h2M729 149.5h1M750 149.5h2M491 150.5h1M671.5 150v2M682 150.5h2M715 150.5h1M726 150.5h3M752 150.5h1M390.5 151v4M464.5 151v3M490 151.5h1M681 151.5h1M716 151.5h2M722 151.5h4M753 151.5h2M489 152.5h1M672.5 152v2M678 152.5h3M718 152.5h4M755 152.5h2M488 153.5h1M673 153.5h5M757.5 153v2M465.5 154v2M487 154.5h1M389.5 155v4M486.5 155v2M758.5 155v2M466.5 156v3M485 157.5h1M759.5 157v2M484 158.5h1M388.5 159v4M467.5 159v2M483.5 159v2M760.5 159v2M468.5 161v2M482 161.5h1M761.5 161v2M469 162.5h1M481.5 162v2M387.5 163v5M470 163.5h3M762.5 163v2M473 164.5h1M480 164.5h1M474 165.5h1M478 165.5h2M763.5 165v2M475 166.5h1M477 166.5h1M27 167.5h6M476 167.5h1M764.5 167v3M25 168.5h2M33 168.5h1M386.5 168v4M23 169.5h2M34 169.5h2M21 170.5h2M36 170.5h1M765.5 170v2M20.5 171v2M37.5 171v2M385.5 172v5M766.5 172v3M19.5 173v2M38 173.5h1M39.5 174v2M18.5 175v2M767.5 175v2M40 176.5h1M17.5 177v2M41 177.5h1M384.5 177v3M768.5 177v3M42 178.5h2M308 178.5h1M16.5 179v2M44 179.5h1M306 179.5h2M309 179.5h2M45 180.5h2M305 180.5h1M311 180.5h2M383.5 180v2M769.5 180v3M14 181.5h2M47 181.5h2M304 181.5h1M313 181.5h1M13 182.5h1M48 182.5h1M303 182.5h1M314.5 182v2M382 182.5h1M4 183.5h2M10 183.5h3M49.5 183v2M302.5 183v2M381.5 183v2M770.5 183v2M6 184.5h4M315 184.5h1M50.5 185v2M301 185.5h1M316 185.5h1M380.5 185v2M771.5 185v3M300.5 186v2M317.5 186v2M51.5 187v2M379.5 187v3M299.5 188v2M318.5 188v2M772.5 188v3M52.5 189v2M53 190.5h1M298.5 190v2M319.5 190v2M378.5 190v2M54 191.5h3M773.5 191v2M57 192.5h1M297.5 192v2M320 192.5h1M377.5 192v3M58 193.5h1M321.5 193v2M774.5 193v2M59 194.5h1M296 194.5h1M60 195.5h1M295.5 195v2M322.5 195v2M376.5 195v2M775.5 195v2M61.5 196v2M832 196.5h9M294.5 197v2M323.5 197v2M375 197.5h1M776.5 197v2M831 197.5h1M841 197.5h2M62 198.5h1M374.5 198v2M830 198.5h1M843 198.5h2M63.5 199v2M293.5 199v2M324.5 199v2M777 199.5h2M829 199.5h1M845.5 199v2M373 200.5h1M779 200.5h2M828 200.5h1M64 201.5h1M95 201.5h2M292 201.5h1M325.5 201v2M372.5 201v2M781 201.5h2M786 201.5h3M827 201.5h1M846 201.5h1M65.5 202v2M93 202.5h2M97 202.5h2M291.5 202v2M783 202.5h3M789 202.5h2M826 202.5h1M847.5 202v2M90 203.5h3M99 203.5h3M326.5 203v3M371.5 203v3M791 203.5h2M825 203.5h1M66.5 204v2M72 204.5h1M88 204.5h2M102 204.5h3M236 204.5h1M290.5 204v2M793 204.5h1M824 204.5h1M848 204.5h1M71 205.5h1M73 205.5h1M86 205.5h2M105 205.5h1M234 205.5h2M237 205.5h1M794 205.5h2M823.5 205v2M849 205.5h2M67.5 206v2M70 206.5h1M74 206.5h2M85 206.5h1M106 206.5h2M233 206.5h1M238 206.5h1M289.5 206v2M327.5 206v2M370.5 206v4M796 206.5h1M851 206.5h2M69 207.5h1M76 207.5h2M82 207.5h3M108 207.5h1M232 207.5h1M239 207.5h1M797 207.5h2M822 207.5h1M853 207.5h1M68 208.5h1M78 208.5h4M109 208.5h1M231.5 208v2M240 208.5h1M288 208.5h1M328.5 208v3M799 208.5h2M821.5 208v2M854 208.5h1M110 209.5h1M241 209.5h1M287 209.5h1M801 209.5h2M855 209.5h1M111 210.5h1M230.5 210v2M242 210.5h1M286 210.5h1M369.5 210v3M803 210.5h2M818 210.5h3M856 210.5h1M112 211.5h1M243 211.5h1M246 211.5h4M285 211.5h1M329.5 211v4M805 211.5h1M816 211.5h2M857 211.5h1M113.5 212v2M229.5 212v2M244 212.5h2M250 212.5h12M284 212.5h1M806 212.5h2M814 212.5h2M858 212.5h2M262 213.5h3M283 213.5h1M368.5 213v3M808 213.5h2M813 213.5h1M860.5 213v2M114.5 214v2M227 214.5h2M265 214.5h1M282 214.5h1M810 214.5h3M225 215.5h2M266 215.5h2M281 215.5h1M330.5 215v3M861.5 215v3M115.5 216v2M224.5 216v2M268 216.5h1M279 216.5h2M367.5 216v4M269 217.5h2M277 217.5h2M116 218.5h1M223.5 218v2M271 218.5h6M331.5 218v4M862.5 218v3M117 219.5h1M118.5 220v2M222.5 220v3M366.5 220v4M863.5 221v3M119 222.5h1M332.5 222v3M120 223.5h1M221.5 223v2M121.5 224v2M365.5 224v4M864.5 224v2M220.5 225v3M333.5 225v4M122 226.5h1M865 226.5h1M123.5 227v2M866.5 227v2M219.5 228v3M364.5 228v4M124 229.5h1M334.5 229v3M867 229.5h1M125 230.5h1M868 230.5h1M126 231.5h1M218.5 231v2M869 231.5h1M127 232.5h1M335.5 232v4M363.5 232v4M870 232.5h2M128 233.5h1M135 233.5h2M217.5 233v3M872 233.5h1M129 234.5h2M133 234.5h2M137 234.5h1M873 234.5h2M131 235.5h2M138 235.5h2M875 235.5h2M140 236.5h1M216.5 236v2M336.5 236v2M362.5 236v4M877 236.5h2M882 236.5h3M141 237.5h2M879 237.5h3M885 237.5h2M143 238.5h2M215 238.5h1M337.5 238v2M887 238.5h2M145 239.5h1M214 239.5h1M889 239.5h1M146.5 240v2M213 240.5h1M338.5 240v2M361.5 240v4M890 240.5h1M212.5 241v2M891 241.5h1M147 242.5h1M339.5 242v2M892 242.5h1M148 243.5h1M211.5 243v2M893 243.5h1M149.5 244v2M340.5 244v2M360.5 244v2M894.5 244v2M210.5 245v3M150.5 246v2M341.5 246v2M358 246.5h2M895 246.5h1M357 247.5h1M896 247.5h1M151.5 248v2M209.5 248v2M342.5 248v2M356 248.5h1M897 248.5h1M355.5 249v2M898 249.5h2M152.5 250v3M208.5 250v3M343.5 250v2M900 250.5h2M354.5 251v2M902 251.5h3M344.5 252v2M905 252.5h1M153.5 253v2M207.5 253v3M353.5 253v2M906 253.5h1M345 254.5h1M907 254.5h1M154.5 255v2M346 255.5h1M351 255.5h2M908 255.5h1M206.5 256v3M347 256.5h1M349 256.5h2M909.5 256v2M155.5 257v2M348 257.5h1M910 258.5h1M156.5 259v3M205.5 259v3M911.5 259v2M912 261.5h1M157.5 262v2M204.5 262v3M913 262.5h1M914.5 263v2M158.5 264v2M203.5 265v2M915 265.5h1M159.5 266v2M916 266.5h1M202.5 267v3M917 267.5h1M160.5 268v3M918 268.5h2M920 269.5h1M201.5 270v2M921 270.5h2M930 270.5h3M161.5 271v2M923 271.5h7M933 271.5h1M200.5 272v3M934 272.5h1M162.5 273v3M935 273.5h1M936 274.5h1M199.5 275v3M937.5 275v2M163.5 276v2M938 277.5h1M164.5 278v2M198.5 278v2M939.5 278v2M165 280.5h1M197.5 280v3M940.5 280v2M166.5 281v2M941.5 282v2M167 283.5h1M196.5 283v3M168 284.5h1M942.5 284v2M169 285.5h1M170.5 286v2M195.5 286v3M943.5 286v2M171 288.5h1M944.5 288v2M172 289.5h1M194.5 289v2M173.5 290v2M945.5 290v2M193.5 291v3M174.5 292v2M946.5 292v2M175.5 294v2M192.5 294v2M947.5 294v2M176 296.5h1M191 296.5h1M948.5 296v3M177 297.5h1M190.5 297v2M178 298.5h1M179 299.5h1M189 299.5h1M949.5 299v2M180 300.5h1M187 300.5h2M181 301.5h2M185 301.5h2M950.5 301v2M183 302.5h2M951.5 303v2M952.5 305v3M953.5 308v2M954.5 310v2M955.5 312v2M956.5 314v2M957.5 316v2M958.5 318v2M959.5 320v2M960 322.5h1M961 323.5h2M963 324.5h2M965 325.5h1M966 326.5h2M980 326.5h1M968 327.5h1M978 327.5h2M981 327.5h1M969 328.5h2M977 328.5h1M982 328.5h2M971 329.5h6M984 329.5h2M986 330.5h11M997.5 331v2M998.5 333v2M999.5 335v2M1000.5 337v2M1050 338.5h3M1001.5 339v2M1048 339.5h2M1053.5 339v2M1047 340.5h1M1002.5 341v2M1046.5 341v2M1054.5 341v2M1003.5 343v2M1045 343.5h1M1055.5 343v2M1044 344.5h1M1004.5 345v3M1042 345.5h2M1056.5 345v3M1041 346.5h1M1040.5 347v2M1005.5 348v3M1057.5 348v4M1039.5 349v2M1006.5 351v3M1038.5 351v2M1058.5 352v3M1037.5 353v2M1007.5 354v3M1036.5 355v3M1059.5 355v4M1008.5 357v3M1035.5 358v2M1060.5 359v3M1009.5 360v3M1034.5 360v3M1061.5 362v3M1010.5 363v2M1033.5 363v2M1011.5 365v3M1032.5 365v3M1062.5 365v2M1063.5 367v3M1012.5 368v3M1031.5 368v2M1030.5 370v2M1064.5 370v3M1013.5 371v2M1029.5 372v2M1014.5 373v3M1065.5 373v2M1028.5 374v2M1066.5 375v2M1015.5 376v2M1027 376.5h1M1026.5 377v2M1067.5 377v2M1016.5 378v2M1025 379.5h1M1068.5 379v3M1017 380.5h1M1024 380.5h1M1018.5 381v2M1023 381.5h1M1022 382.5h1M1069.5 382v4M1019 383.5h1M1021 383.5h1M1020 384.5h1M1070.5 386v4M1071.5 390v4M1072.5 394v3M1073.5 397v2M1074.5 399v2M1075.5 401v2M1076.5 403v2M1077 405.5h2M1079 406.5h2M1081 407.5h1M1082 408.5h2M1084.5 409v2M1085.5 411v2M1086.5 413v3M1087.5 416v2M1088.5 418v2M1089.5 420v2M1099 421.5h2M1108 421.5h5M1090 422.5h1M1097 422.5h2M1101 422.5h1M1107 422.5h1M1113.5 422v2M1091.5 423v2M1095 423.5h2M1102.5 423v2M1106.5 423v2M1093 424.5h2M1114.5 424v2M1092 425.5h1M1103 425.5h1M1105 425.5h1M1104 426.5h1M1115.5 426v2M1116.5 428v2M1160 429.5h1M1117.5 430v2M1159 430.5h1M1161 430.5h2M1158.5 431v2M1163 431.5h3M1118.5 432v3M1166 432.5h3M1157 433.5h1M1169.5 433v2M1156 434.5h1M1119.5 435v2M1155.5 435v2M1170.5 435v2M1120.5 437v2M1154.5 437v2M1171.5 437v2M1121.5 439v2M1153.5 439v2M1172.5 439v3M1122.5 441v2M1152.5 441v2M1173.5 442v3M1123.5 443v2M1151.5 443v2M1124.5 445v3M1150.5 445v3M1174.5 445v3M1125.5 448v3M1149.5 448v2M1175.5 448v3M1148.5 450v3M1126.5 451v3M1176.5 451v3M1147.5 453v2M1127.5 454v3M1177.5 454v3M1146.5 455v3M1128.5 457v2M1178.5 457v4M1145.5 458v2M1129 459.5h1M1130 460.5h2M1144.5 460v2M1132 461.5h1M1179.5 461v3M1133 462.5h1M1143.5 462v2M1134 463.5h1M1135 464.5h1M1142 464.5h1M1180.5 464v3M1136 465.5h1M1141.5 465v2M1137 466.5h2M1139 467.5h2M1181.5 467v4M1182.5 471v4M1183.5 475v4M1184.5 479v4M1185.5 483v4M1186.5 487v4M1187.5 491v4M1188.5 495v4M1189.5 499v2M1190.5 501v2M1191.5 503v2M1208 504.5h1M1192.5 505v2M1207 505.5h1M1209 505.5h1M1206 506.5h1M1210 506.5h1M1193.5 507v2M1205 507.5h1M1211 507.5h1M1203 508.5h2M1212 508.5h1M1194 509.5h1M1201 509.5h2M1213 509.5h1M1195.5 510v2M1199 510.5h2M1214.5 510v2M1197 511.5h2M1196 512.5h1M1215 512.5h1M1216.5 513v2M1217.5 515v3M1218.5 518v2M1219.5 520v3M1220.5 523v2M1221.5 525v2M1222.5 527v2M1223.5 529v2M1224 531.5h1M1225 532.5h1M1226.5 533v2M1256 533.5h1M1254 534.5h2M1257 534.5h2M1227 535.5h1M1253 535.5h1M1259 535.5h2M1228 536.5h1M1244 536.5h2M1250 536.5h3M1261 536.5h2M1266 536.5h3M1229.5 537v2M1243 537.5h1M1246 537.5h4M1263 537.5h3M1242.5 538v2M1230.5 539v2M1241 540.5h1M1231.5 541v2M1240 541.5h1M1239 542.5h1M1232 543.5h1M1238.5 543v2M1233 544.5h1M1234 545.5h2M1237 545.5h1M1236 546.5h1" fill="none" stroke="#ffa500" stroke-width="1"/>
<rect x="3" y="25" width="1" height="557" fill="#000"/>
<rect x="4" y="125" width="1594" height="2" fill="#ff0000"/>
<rect x="4" y="203" width="1594" height="2" fill="#ff0000"/>
<rect x="3" y="201" width="6" height="6" fill="#ff0000"/>
<rect x="5" y="203" width="2" height="2" fill="#fff"/>
<rect x="1590" y="201" width="6" height="6" fill="#ff0000"/>
<rect x="1592" y="203" width="2" height="2" fill="#fff"/>
<rect x="4" y="289" width="1594" height="2" fill="#ff0000"/>
<rect x="3" y="287" width="6" height="6" fill="#ff0000"/>
<rect x="5" y="289" width="2" height="2" fill="#fff"/>
<rect x="1590" y="287" width="6" height="6" fill="#ff0000"/>
<rect x="1592" y="289" width="2" height="2" fill="#fff"/>
<rect x="4" y="388" width="1594" height="2" fill="#ff0000"/>
<rect x="3" y="386" width="6" height="6" fill="#ff0000"/>
<rect x="5" y="388" width="2" height="2" fill="#fff"/>
<rect x="1590" y="386" width="6" height="6" fill="#ff0000"/>
<rect x="1592" y="388" width="2" height="2" fill="#fff"/>
<rect x="4" y="493" width="1594" height="2" fill="#00ff00"/>
<rect x="3" y="491" width="6" height="6" fill="#00ff00"/>
<rect x="5" y="493" width="2" height="2" fill="#fff"/>
<rect x="1590" y="491" width="6" height="6" fill="#00ff00"/>
<rect x="1592" y="493" width="2" height="2" fill="#fff"/>
<rect x="4" y="569" width="1594" height="2" fill="#0000ff"/>
<rect x="3" y="567" width="6" height="6" fill="#0000ff"/>
<rect x="5" y="569" width="2" height="2" fill="#fff"/>
<rect x="1590" y="567" width="6" height="6" fill="#0000ff"/>
<rect x="1592" y="569" width="2" height="2" fill="#fff"/>
<path d="M388 611.5h1M387.5 612v2M389 612.5h1M390 613.5h2M386.5 614v2M392 614.5h5M624.5 614v2M397 615.5h2M385.5 616v2M399 616.5h2M623.5 616v2M625.5 616v3M232 617.5h1M400 617.5h1M222 618.5h3M230 618.5h2M233.5 618v2M292.5 618v2M384 618.5h1M401.5 618v2M622.5 618v3M220 619.5h2M225 619.5h2M229 619.5h1M293 619.5h2M383.5 619v2M626.5 619v3M20.5 620v2M208.5 620v2M219.5 620v2M227 620.5h2M234.5 620v2M291.5 620v2M295 620.5h6M364.5 620v3M402.5 620v3M408 620.5h1M539 620.5h2M209 621.5h1M301 621.5h1M365 621.5h1M382 621.5h1M407.5 621v2M409.5 621v2M537 621.5h2M541 621.5h1M621.5 621v2M19.5 622v2M21.5 622v2M207.5 622v4M210 622.5h1M218.5 622v2M235.5 622v2M290.5 622v2M302 622.5h2M366 622.5h1M381.5 622v2M536.5 622v2M542 622.5h2M608 622.5h1M627.5 622v3M211 623.5h1M250 623.5h3M304 623.5h1M363.5 623v4M367 623.5h1M370 623.5h3M403.5 623v2M406 623.5h1M410.5 623v2M544 623.5h1M607.5 623v2M609 623.5h2M620.5 623v2M18.5 624v2M22.5 624v3M212 624.5h1M217.5 624v2M236 624.5h1M248 624.5h2M253 624.5h1M289.5 624v2M305 624.5h1M311 624.5h2M368 624.5h2M372 624.5h1M380.5 624v2M405.5 624v2M424 624.5h1M535.5 624v4M545 624.5h1M551 624.5h2M584 624.5h1M611 624.5h9M631 624.5h2M213 625.5h2M237.5 625v2M247.5 625v2M254.5 625v2M306 625.5h2M309 625.5h2M313.5 625v2M373.5 625v2M404.5 625v2M411.5 625v2M423 625.5h1M425.5 625v2M546 625.5h2M549 625.5h2M552 625.5h1M583 625.5h1M585 625.5h2M606 625.5h1M628 625.5h3M633 625.5h2M17.5 626v2M206.5 626v3M215 626.5h2M286 626.5h3M308 626.5h1M379.5 626v2M415 626.5h2M422 626.5h1M548 626.5h1M553.5 626v2M582 626.5h1M587 626.5h2M605.5 626v2M628 626.5h1M635 626.5h2M23.5 627v2M238 627.5h1M246 627.5h1M255 627.5h1M284 627.5h2M314.5 627v2M362.5 627v5M374.5 627v2M412 627.5h3M417 627.5h2M421 627.5h1M426 627.5h1M432 627.5h1M440 627.5h2M500 627.5h2M581 627.5h1M589 627.5h2M637.5 627v2M16 628.5h1M239.5 628v2M245.5 628v2M256 628.5h1M271 628.5h6M283 628.5h1M378.5 628v2M412 628.5h1M419 628.5h2M427.5 628v2M430 628.5h2M433 628.5h1M438 628.5h2M442 628.5h7M499 628.5h1M502 628.5h3M534.5 628v3M554.5 628v3M579 628.5h2M591 628.5h2M604 628.5h1M15.5 629v2M24.5 629v2M205.5 629v4M257.5 629v2M269 629.5h2M277 629.5h1M282.5 629v2M315.5 629v2M375.5 629v2M429 629.5h1M434 629.5h2M437 629.5h1M449.5 629v2M498.5 629v2M505 629.5h1M577 629.5h2M593 629.5h1M603.5 629v2M638 629.5h1M240 630.5h5M267 630.5h2M278 630.5h1M377.5 630v2M428 630.5h1M436 630.5h1M483 630.5h2M506 630.5h1M511 630.5h10M568 630.5h1M576 630.5h1M594 630.5h1M639.5 630v2M14 631.5h1M25 631.5h2M258 631.5h1M265 631.5h2M279 631.5h1M281 631.5h1M316.5 631v2M376.5 631v2M450.5 631v2M481 631.5h2M485 631.5h2M497 631.5h1M507 631.5h1M509 631.5h2M521 631.5h2M533.5 631v4M555.5 631v2M567 631.5h1M569 631.5h1M575 631.5h1M595 631.5h1M602 631.5h1M13.5 632v2M27 632.5h2M196.5 632v2M259.5 632v2M263 632.5h2M280 632.5h1M361.5 632v4M480 632.5h1M487 632.5h10M508 632.5h1M523 632.5h2M566 632.5h1M570 632.5h1M574 632.5h1M596 632.5h1M601.5 632v2M640 632.5h1M29 633.5h1M197 633.5h2M204.5 633v2M261 633.5h2M317 633.5h1M451.5 633v2M479.5 633v2M525 633.5h2M556.5 633v2M565 633.5h1M571 633.5h1M573 633.5h1M597 633.5h2M641.5 633v2M824.5 633v2M1152 633.5h2M4 634.5h1M11 634.5h2M30 634.5h1M40 634.5h1M47 634.5h2M195.5 634v2M199 634.5h5M260 634.5h1M318 634.5h1M455 634.5h2M527 634.5h2M563 634.5h2M572 634.5h1M599 634.5h2M727 634.5h3M825 634.5h1M1036 634.5h6M1151 634.5h1M1154 634.5h3M5 635.5h2M9 635.5h2M31 635.5h1M39 635.5h1M41 635.5h2M45 635.5h2M48 635.5h1M319 635.5h1M452 635.5h3M457 635.5h2M478 635.5h1M529 635.5h2M532.5 635v2M557 635.5h2M561 635.5h2M642 635.5h1M725 635.5h2M730 635.5h3M823.5 635v2M826 635.5h2M1034 635.5h2M1042 635.5h3M1150.5 635v2M1157.5 635v2M7 636.5h2M32 636.5h1M38.5 636v2M43 636.5h2M49.5 636v4M88 636.5h1M194.5 636v2M320 636.5h1M356 636.5h1M360.5 636v3M452 636.5h1M459 636.5h2M471 636.5h2M477.5 636v2M531 636.5h1M559 636.5h2M643.5 636v2M647 636.5h2M723 636.5h2M733 636.5h1M828 636.5h1M1033 636.5h1M1045 636.5h1M1051 636.5h2M33 637.5h1M87 637.5h1M89 637.5h2M321 637.5h2M355.5 637v2M357 637.5h2M461 637.5h2M469 637.5h2M473 637.5h2M645 637.5h2M649 637.5h2M721 637.5h2M734 637.5h2M822.5 637v2M829 637.5h1M844.5 637v2M1032.5 637v2M1046 637.5h2M1049 637.5h2M1053.5 637v2M1149 637.5h1M1158 637.5h1M34 638.5h2M37 638.5h1M56.5 638v2M86.5 638v2M91 638.5h2M193.5 638v2M323 638.5h2M359 638.5h1M463 638.5h6M475 638.5h2M644 638.5h1M651 638.5h2M720.5 638v2M736 638.5h1M830 638.5h1M843 638.5h1M1048 638.5h1M1144 638.5h5M1159.5 638v2M36 639.5h1M57 639.5h2M93 639.5h2M325.5 639v2M354 639.5h1M653.5 639v2M686 639.5h8M698 639.5h3M737 639.5h1M821.5 639v2M831 639.5h1M842.5 639v2M845.5 639v2M1031.5 639v3M1054.5 639v2M1144 639.5h1M50.5 640v4M55.5 640v3M59 640.5h2M72 640.5h6M85 640.5h1M95 640.5h2M191 640.5h2M353.5 640v2M680 640.5h6M694 640.5h4M701 640.5h1M719.5 640v2M738 640.5h2M832 640.5h2M1096 640.5h2M1143.5 640v2M1160 640.5h9M1267 640.5h2M61 641.5h1M71 641.5h1M78 641.5h7M97 641.5h2M189 641.5h2M326 641.5h1M654.5 641v2M679 641.5h1M702 641.5h2M706 641.5h3M740 641.5h2M746 641.5h11M820.5 641v2M834 641.5h4M841 641.5h1M846.5 641v2M1055.5 641v2M1096 641.5h1M1098 641.5h3M1169 641.5h2M1265 641.5h2M62 642.5h1M70 642.5h1M99 642.5h10M188.5 642v3M327.5 642v2M352 642.5h1M678 642.5h1M704 642.5h2M709 642.5h1M718.5 642v2M742 642.5h4M756 642.5h1M816 642.5h4M838 642.5h3M872 642.5h5M1030.5 642v2M1095.5 642v4M1101 642.5h1M1142.5 642v2M1171 642.5h2M1240 642.5h5M1262 642.5h3M54.5 643v3M63 643.5h1M69 643.5h1M109 643.5h1M351 643.5h1M655.5 643v2M677 643.5h1M710.5 643v2M757.5 643v4M816 643.5h1M847.5 643v2M852 643.5h2M871.5 643v2M877 643.5h1M1056.5 643v2M1102.5 643v2M1173.5 643v2M1240 643.5h1M1245 643.5h2M1258 643.5h4M51.5 644v4M64 644.5h5M110 644.5h1M328 644.5h1M350 644.5h1M668 644.5h1M676 644.5h1M717.5 644v2M815.5 644v3M850 644.5h2M854 644.5h3M878 644.5h2M1024.5 644v2M1029.5 644v3M1107 644.5h2M1141.5 644v2M1239.5 644v2M1247 644.5h2M1255 644.5h3M111 645.5h1M136 645.5h1M187.5 645v5M329 645.5h1M349 645.5h1M656.5 645v2M667 645.5h1M669 645.5h1M675 645.5h1M711 645.5h1M848 645.5h2M857 645.5h2M870 645.5h1M880 645.5h1M1025 645.5h1M1057.5 645v2M1103 645.5h1M1105 645.5h2M1109 645.5h1M1174.5 645v2M1200 645.5h1M1249 645.5h2M1253 645.5h2M53.5 646v3M112 646.5h1M134 646.5h2M137.5 646v2M330 646.5h1M340 646.5h9M657 646.5h4M666 646.5h1M670 646.5h1M674 646.5h1M712 646.5h5M848 646.5h1M859 646.5h2M869.5 646v2M881 646.5h1M892 646.5h2M923 646.5h2M1023.5 646v2M1026 646.5h1M1094.5 646v3M1104 646.5h1M1110 646.5h1M1134 646.5h7M1192.5 646v2M1199 646.5h1M1201 646.5h1M1207 646.5h3M1228.5 646v2M1238.5 646v2M1251 646.5h2M113 647.5h1M133 647.5h1M331 647.5h1M339.5 647v2M661 647.5h2M665 647.5h1M671 647.5h1M673 647.5h1M758.5 647v4M814.5 647v3M860 647.5h1M882 647.5h2M891 647.5h1M894 647.5h7M921 647.5h2M925 647.5h1M1027 647.5h2M1058.5 647v2M1084 647.5h1M1111 647.5h1M1114 647.5h3M1132 647.5h2M1175.5 647v2M1193 647.5h1M1198 647.5h1M1202 647.5h2M1205 647.5h2M1210 647.5h3M1229 647.5h1M52.5 648v3M114 648.5h1M131 648.5h2M138.5 648v2M332 648.5h1M663 648.5h2M672 648.5h1M861.5 648v2M868.5 648v2M884 648.5h1M890 648.5h1M901 648.5h1M920 648.5h1M926 648.5h1M1022.5 648v3M1028 648.5h1M1064 648.5h5M1082 648.5h2M1085.5 648v2M1112 648.5h2M1117 648.5h1M1132 648.5h1M1191.5 648v2M1194 648.5h2M1197 648.5h1M1204 648.5h1M1213 648.5h1M1227.5 648v2M1230 648.5h1M1237.5 648v2M115 649.5h1M129 649.5h2M333 649.5h1M338.5 649v2M788 649.5h1M885 649.5h2M889 649.5h1M902 649.5h2M919.5 649v2M927 649.5h1M980.5 649v2M1059.5 649v2M1063 649.5h1M1069.5 649v2M1081 649.5h1M1093.5 649v4M1118 649.5h2M1131.5 649v2M1176.5 649v2M1196 649.5h1M1214 649.5h2M1231 649.5h1M116 650.5h1M127 650.5h2M139.5 650v2M186.5 650v5M334.5 650v2M787 650.5h1M789.5 650v2M813.5 650v3M862.5 650v3M867.5 650v2M887 650.5h2M904 650.5h1M928 650.5h5M981 650.5h1M1062 650.5h1M1076 650.5h5M1086.5 650v2M1120 650.5h1M1190.5 650v3M1216 650.5h1M1226.5 650v2M1232 650.5h5M117 651.5h2M125 651.5h2M337.5 651v2M759.5 651v4M786.5 651v2M905 651.5h1M918 651.5h1M933.5 651v2M979.5 651v2M982 651.5h2M1021.5 651v2M1060 651.5h2M1070 651.5h1M1075 651.5h1M1121 651.5h2M1130.5 651v2M1177 651.5h1M1217 651.5h1M119 652.5h6M140 652.5h2M335 652.5h1M779 652.5h2M790 652.5h1M799 652.5h10M866.5 652v2M906 652.5h1M911 652.5h2M917.5 652v2M984 652.5h1M991 652.5h6M1060 652.5h1M1071.5 652v2M1074 652.5h1M1087.5 652v2M1123 652.5h2M1178 652.5h1M1218 652.5h1M1225.5 652v2M142 653.5h3M336 653.5h1M777 653.5h2M781 653.5h2M785 653.5h1M791.5 653v2M797 653.5h2M809 653.5h2M812.5 653v2M863.5 653v2M907 653.5h1M909 653.5h2M913 653.5h2M934 653.5h1M978.5 653v2M985 653.5h2M989 653.5h2M997.5 653v2M1020.5 653v2M1073 653.5h1M1092.5 653v2M1125 653.5h1M1129.5 653v2M1179 653.5h1M1189.5 653v2M1219 653.5h1M145 654.5h1M776 654.5h1M783 654.5h2M794 654.5h3M811 654.5h1M865.5 654v2M908 654.5h1M915 654.5h2M935.5 654v2M987 654.5h2M1072 654.5h1M1088.5 654v2M1090 654.5h2M1126 654.5h2M1180 654.5h1M1220 654.5h5M146.5 655v2M185.5 655v5M760.5 655v2M775.5 655v2M792 655.5h2M864.5 655v2M977.5 655v2M998 655.5h1M1019 655.5h1M1089 655.5h1M1128 655.5h1M1181 655.5h1M1188.5 655v2M761 656.5h1M936 656.5h1M964 656.5h5M999.5 656v2M1018 656.5h1M1182 656.5h2M1186 656.5h2M147 657.5h1M762 657.5h4M774 657.5h1M937 657.5h2M964 657.5h1M969 657.5h2M976.5 657v2M1017 657.5h1M1184 657.5h2M148 658.5h1M766 658.5h3M773.5 658v2M939 658.5h2M963.5 658v2M971 658.5h5M1000 658.5h1M1015 658.5h2M149 659.5h2M769 659.5h2M941 659.5h2M1001 659.5h1M1013 659.5h2M151 660.5h6M184.5 660v3M771 660.5h2M943 660.5h3M962.5 660v2M1002.5 660v2M1012 660.5h1M157 661.5h1M168 661.5h2M946 661.5h3M1011.5 661v2M158 662.5h1M167 662.5h1M170 662.5h3M183 662.5h1M949 662.5h2M961.5 662v2M1003 662.5h1M159 663.5h1M166.5 663v2M173 663.5h2M181 663.5h2M951 663.5h3M1004 663.5h1M1010 663.5h1M160 664.5h1M175 664.5h6M954 664.5h7M1005 664.5h1M1009.5 664v2M161 665.5h2M165 665.5h1M1006 665.5h2M163 666.5h2M1008 666.5h1" fill="none" stroke="#1e90ff" stroke-width="1"/>
<rect x="4" y="738" width="1" height="5" fill="#c0c0c0"/>
<rect x="8" y="738" width="1" height="5" fill="#c0c0c0"/>
<rect x="12" y="738" width="1" height="5" fill="#c0c0c0"/>
<rect x="16" y="738" width="1" height="2" fill="#c0c0c0"/>
<rect x="20" y="737" width="1" height="2" fill="#c0c0c0"/>
<rect x="24" y="737" width="1" height="2" fill="#c0c0c0"/>
<rect x="28" y="736" width="1" height="3" fill="#c0c0c0"/>
<rect x="32" y="737" width="1" height="2" fill="#c0c0c0"/>
<rect x="36" y="738" width="1" height="1" fill="#c0c0c0"/>
<rect x="40" y="738" width="1" height="1" fill="#c0c0c0"/>
<rect x="44" y="738" width="1" height="1" fill="#c0c0c0"/>
<rect x="48" y="738" width="1" height="1" fill="#c0c0c0"/>
<rect x="52" y="738" width="1" height="6" fill="#c0c0c0"/>
<rect x="56" y="738" width="1" height="7" fill="#c0c0c0"/>
<rect x="60" y="738" width="1" height="9" fill="#c0c0c0"/>
<rect x="64" y="738" width="1" height="11" fill="#c0c0c0"/>
<rect x="68" y="738" width="1" height="12" fill="#c0c0c0"/>
<rect x="72" y="738" width="1" height="12" fill="#c0c0c0"/>
<rect x="76" y="738" width="1" height="12" fill="#c0c0c0"/>
<rect x="80" y="738" width="1" height="12" fill="#c0c0c0"/>
<rect x="84" y="738" width="1" height="12" fill="#c0c0c0"/>
<rect x="88" y="738" width="1" height="10" fill="#c0c0c0"/>
<rect x="92" y="738" width="1" height="10" fill="#c0c0c0"/>
<rect x="96" y="738" width="1" height="10" fill="#c0c0c0"/>
<rect x="100" y="738" width="1" height="10" fill="#c0c0c0"/>
<rect x="104" y="738" width="1" height="11" fill="#c0c0c0"/>
<rect x="108" y="738" width="1" height="12" fill="#c0c0c0"/>
<rect x="112" y="738" width="1" height="13" fill="#c0c0c0"/>
<rect x="116" y="738" width="1" height="15" fill="#c0c0c0"/>
<rect x="120" y="738" width="1" height="17" fill="#c0c0c0"/>
<rect x="124" y="738" width="1" height="18" fill="#c0c0c0"/>
<rect x="128" y="738" width="1" height="18" fill="#c0c0c0"/>
<rect x="132" y="738" width="1" height="18" fill="#c0c0c0"/>
<rect x="136" y="738" width="1" height="18" fill="#c0c0c0"/>
<rect x="140" y="738" width="1" height="20" fill="#c0c0c0"/>
<rect x="144" y="738" width="1" height="21" fill="#c0c0c0"/>
<rect x="148" y="738" width="1" height="23" fill="#c0c0c0"/>
<rect x="152" y="738" width="1" height="26" fill="#c0c0c0"/>
<rect x="156" y="738" width="1" height="28" fill="#c0c0c0"/>
<rect x="160" y="738" width="1" height="31" fill="#c0c0c0"/>
<rect x="164" y="738" width="1" height="35" fill="#c0c0c0"/>
<rect x="168" y="738" width="1" height="36" fill="#c0c0c0"/>
<rect x="172" y="738" width="1" height="39" fill="#c0c0c0"/>
<rect x="176" y="738" width="1" height="40" fill="#c0c0c0"/>
<rect x="180" y="738" width="1" height="41" fill="#c0c0c0"/>
<rect x="184" y="738" width="1" height="41" fill="#c0c0c0"/>
<rect x="188" y="738" width="1" height="36" fill="#c0c0c0"/>
<rect x="192" y="738" width="1" height="33" fill="#c0c0c0"/>
<rect x="196" y="738" width="1" height="26" fill="#c0c0c0"/>
<rect x="200" y="738" width="1" height="22" fill="#c0c0c0"/>
<rect x="204" y="738" width="1" height="18" fill="#c0c0c0"/>
<rect x="208" y="738" width="1" height="10" fill="#c0c0c0"/>
<rect x="212" y="738" width="1" height="5" fill="#c0c0c0"/>
<rect x="216" y="738" width="1" height="2" fill="#c0c0c0"/>
<rect x="220" y="735" width="1" height="4" fill="#c0c0c0"/>
<rect x="224" y="730" width="1" height="9" fill="#c0c0c0"/>
<rect x="228" y="727" width="1" height="12" fill="#c0c0c0"/>
<rect x="232" y="722" width="1" height="17" fill="#c0c0c0"/>
<rect x="236" y="722" width="1" height="17" fill="#c0c0c0"/>
<rect x="240" y="723" width="1" height="16" fill="#c0c0c0"/>
<rect x="244" y="724" width="1" height="15" fill="#c0c0c0"/>
<rect x="248" y="722" width="1" height="17" fill="#c0c0c0"/>
<rect x="252" y="721" width="1" height="18" fill="#c0c0c0"/>
<rect x="256" y="722" width="1" height="17" fill="#c0c0c0"/>
<rect x="260" y="723" width="1" height="16" fill="#c0c0c0"/>
<rect x="264" y="726" width="1" height="13" fill="#c0c0c0"/>
<rect x="268" y="727" width="1" height="12" fill="#c0c0c0"/>
<rect x="272" y="727" width="1" height="12" fill="#c0c0c0"/>
<rect x="276" y="727" width="1" height="12" fill="#c0c0c0"/>
<rect x="280" y="728" width="1" height="11" fill="#c0c0c0"/>
<rect x="284" y="727" width="1" height="12" fill="#c0c0c0"/>
<rect x="288" y="725" width="1" height="14" fill="#c0c0c0"/>
<rect x="292" y="722" width="1" height="17" fill="#c0c0c0"/>
<rect x="296" y="720" width="1" height="19" fill="#c0c0c0"/>
<rect x="300" y="718" width="1" height="21" fill="#c0c0c0"/>
<rect x="304" y="718" width="1" height="21" fill="#c0c0c0"/>
<rect x="308" y="718" width="1" height="21" fill="#c0c0c0"/>
<rect x="312" y="718" width="1" height="21" fill="#c0c0c0"/>
<rect x="316" y="720" width="1" height="19" fill="#c0c0c0"/>
<rect x="320" y="725" width="1" height="14" fill="#c0c0c0"/>
<rect x="324" y="728" width="1" height="11" fill="#c0c0c0"/>
<rect x="328" y="733" width="1" height="6" fill="#c0c0c0"/>
<rect x="332" y="738" width="1" height="1" fill="#c0c0c0"/>
<rect x="336" y="738" width="1" height="7" fill="#c0c0c0"/>
<rect x="340" y="738" width="1" height="11" fill="#c0c0c0"/>
<rect x="344" y="738" width="1" height="14" fill="#c0c0c0"/>
<rect x="348" y="738" width="1" height="16" fill="#c0c0c0"/>
<rect x="352" y="738" width="1" height="16" fill="#c0c0c0"/>
<rect x="356" y="738" width="1" height="15" fill="#c0c0c0"/>
<rect x="360" y="738" width="1" height="12" fill="#c0c0c0"/>
<rect x="364" y="738" width="1" height="5" fill="#c0c0c0"/>
<rect x="368" y="738" width="1" height="1" fill="#c0c0c0"/>
<rect x="372" y="734" width="1" height="5" fill="#c0c0c0"/>
<rect x="376" y="734" width="1" height="5" fill="#c0c0c0"/>
<rect x="380" y="730" width="1" height="9" fill="#c0c0c0"/>
<rect x="384" y="723" width="1" height="16" fill="#c0c0c0"/>
<rect x="388" y="711" width="1" height="28" fill="#c0c0c0"/>
<rect x="392" y="704" width="1" height="35" fill="#c0c0c0"/>
<rect x="396" y="698" width="1" height="41" fill="#c0c0c0"/>
<rect x="400" y="695" width="1" height="44" fill="#c0c0c0"/>
<rect x="404" y="697" width="1" height="42" fill="#c0c0c0"/>
<rect x="408" y="694" width="1" height="45" fill="#c0c0c0"/>
<rect x="412" y="697" width="1" height="42" fill="#c0c0c0"/>
<rect x="416" y="698" width="1" height="41" fill="#c0c0c0"/>
<rect x="420" y="701" width="1" height="38" fill="#c0c0c0"/>
<rect x="424" y="700" width="1" height="39" fill="#c0c0c0"/>
<rect x="428" y="704" width="1" height="35" fill="#c0c0c0"/>
<rect x="432" y="704" width="1" height="35" fill="#c0c0c0"/>
<rect x="436" y="708" width="1" height="31" fill="#c0c0c0"/>
<rect x="440" y="708" width="1" height="31" fill="#c0c0c0"/>
<rect x="444" y="709" width="1" height="30" fill="#c0c0c0"/>
<rect x="448" y="710" width="1" height="29" fill="#c0c0c0"/>
<rect x="452" y="717" width="1" height="22" fill="#c0c0c0"/>
<rect x="456" y="720" width="1" height="19" fill="#c0c0c0"/>
<rect x="460" y="725" width="1" height="14" fill="#c0c0c0"/>
<rect x="464" y="730" width="1" height="9" fill="#c0c0c0"/>
<rect x="468" y="734" width="1" height="5" fill="#c0c0c0"/>
<rect x="472" y="736" width="1" height="3" fill="#c0c0c0"/>
<rect x="476" y="738" width="1" height="1" fill="#c0c0c0"/>
<rect x="480" y="738" width="1" height="1" fill="#c0c0c0"/>
<rect x="484" y="736" width="1" height="3" fill="#c0c0c0"/>
<rect x="488" y="735" width="1" height="4" fill="#c0c0c0"/>
<rect x="492" y="734" width="1" height="5" fill="#c0c0c0"/>
<rect x="496" y="734" width="1" height="5" fill="#c0c0c0"/>
<rect x="500" y="732" width="1" height="7" fill="#c0c0c0"/>
<rect x="504" y="731" width="1" height="8" fill="#c0c0c0"/>
<rect x="508" y="731" width="1" height="8" fill="#c0c0c0"/>
<rect x="512" y="731" width="1" height="8" fill="#c0c0c0"/>
<rect x="516" y="730" width="1" height="9" fill="#c0c0c0"/>
<rect x="520" y="730" width="1" height="9" fill="#c0c0c0"/>
<rect x="524" y="731" width="1" height="8" fill="#c0c0c0"/>
<rect x="528" y="732" width="1" height="7" fill="#c0c0c0"/>
<rect x="532" y="734" width="1" height="5" fill="#c0c0c0"/>
<rect x="536" y="730" width="1" height="9" fill="#c0c0c0"/>
<rect x="540" y="726" width="1" height="13" fill="#c0c0c0"/>
<rect x="544" y="724" width="1" height="15" fill="#c0c0c0"/>
<rect x="548" y="724" width="1" height="15" fill="#c0c0c0"/>
<rect x="552" y="723" width="1" height="16" fill="#c0c0c0"/>
<rect x="556" y="725" width="1" height="14" fill="#c0c0c0"/>
<rect x="560" y="728" width="1" height="11" fill="#c0c0c0"/>
<rect x="564" y="730" width="1" height="9" fill="#c0c0c0"/>
<rect x="568" y="730" width="1" height="9" fill="#c0c0c0"/>
<rect x="572" y="731" width="1" height="8" fill="#c0c0c0"/>
<rect x="576" y="731" width="1" height="8" fill="#c0c0c0"/>
<rect x="580" y="730" width="1" height="9" fill="#c0c0c0"/>
<rect x="584" y="728" width="1" height="11" fill="#c0c0c0"/>
<rect x="588" y="728" width="1" height="11" fill="#c0c0c0"/>
<rect x="592" y="728" width="1" height="11" fill="#c0c0c0"/>
<rect x="596" y="730" width="1" height="9" fill="#c0c0c0"/>
<rect x="600" y="731" width="1" height="8" fill="#c0c0c0"/>
<rect x="604" y="729" width="1" height="10" fill="#c0c0c0"/>
<rect x="608" y="727" width="1" height="12" fill="#c0c0c0"/>
<rect x="612" y="726" width="1" height="13" fill="#c0c0c0"/>
<rect x="616" y="725" width="1" height="14" fill="#c0c0c0"/>
<rect x="620" y="724" width="1" height="15" fill="#c0c0c0"/>
<rect x="624" y="719" width="1" height="20" fill="#c0c0c0"/>
<rect x="628" y="719" width="1" height="20" fill="#c0c0c0"/>
<rect x="632" y="719" width="1" height="20" fill="#c0c0c0"/>
<rect x="636" y="719" width="1" height="20" fill="#c0c0c0"/>
<rect x="640" y="722" width="1" height="17" fill="#c0c0c0"/>
<rect x="644" y="726" width="1" height="13" fill="#c0c0c0"/>
<rect x="648" y="730" width="1" height="9" fill="#c0c0c0"/>
<rect x="652" y="732" width="1" height="7" fill="#c0c0c0"/>
<rect x="656" y="738" width="1" height="1" fill="#c0c0c0"/>
<rect x="660" y="738" width="1" height="5" fill="#c0c0c0"/>
<rect x="664" y="738" width="1" height="10" fill="#c0c0c0"/>
<rect x="668" y="738" width="1" height="12" fill="#c0c0c0"/>
<rect x="672" y="738" width="1" height="16" fill="#c0c0c0"/>
<rect x="676" y="738" width="1" height="17" fill="#c0c0c0"/>
<rect x="680" y="738" width="1" height="17" fill="#c0c0c0"/>
<rect x="684" y="738" width="1" height="16" fill="#c0c0c0"/>
<rect x="688" y="738" width="1" height="16" fill="#c0c0c0"/>
<rect x="692" y="738" width="1" height="15" fill="#c0c0c0"/>
<rect x="696" y="738" width="1" height="14" fill="#c0c0c0"/>
<rect x="700" y="738" width="1" height="14" fill="#c0c0c0"/>
<rect x="704" y="738" width="1" height="13" fill="#c0c0c0"/>
<rect x="708" y="738" width="1" height="13" fill="#c0c0c0"/>
<rect x="712" y="738" width="1" height="13" fill="#c0c0c0"/>
<rect x="716" y="738" width="1" height="13" fill="#c0c0c0"/>
<rect x="720" y="738" width="1" height="12" fill="#c0c0c0"/>
<rect x="724" y="738" width="1" height="12" fill="#c0c0c0"/>
<rect x="728" y="738" width="1" height="10" fill="#c0c0c0"/>
<rect x="732" y="738" width="1" height="10" fill="#c0c0c0"/>
<rect x="736" y="738" width="1" height="9" fill="#c0c0c0"/>
<rect x="740" y="738" width="1" height="9" fill="#c0c0c0"/>
<rect x="744" y="738" width="1" height="9" fill="#c0c0c0"/>
<rect x="748" y="738" width="1" height="10" fill="#c0c0c0"/>
<rect x="752" y="738" width="1" height="10" fill="#c0c0c0"/>
<rect x="756" y="738" width="1" height="10" fill="#c0c0c0"/>
<rect x="760" y="738" width="1" height="14" fill="#c0c0c0"/>
<rect x="764" y="738" width="1" height="18" fill="#c0c0c0"/>
<rect x="768" y="738" width="1" height="22" fill="#c0c0c0"/>
<rect x="772" y="738" width="1" height="25" fill="#c0c0c0"/>
<rect x="776" y="738" width="1" height="26" fill="#c0c0c0"/>
<rect x="780" y="738" width="1" height="26" fill="#c0c0c0"/>
<rect x="784" y="738" width="1" height="27" fill="#c0c0c0"/>
<rect x="788" y="738" width="1" height="27" fill="#c0c0c0"/>
<rect x="792" y="738" width="1" height="28" fill="#c0c0c0"/>
<rect x="796" y="738" width="1" height="30" fill="#c0c0c0"/>
<rect x="800" y="738" width="1" height="29" fill="#c0c0c0"/>
<rect x="804" y="738" width="1" height="29" fill="#c0c0c0"/>
<rect x="808" y="738" width="1" height="28" fill="#c0c0c0"/>
<rect x="812" y="738" width="1" height="30" fill="#c0c0c0"/>
<rect x="816" y="738" width="1" height="27" fill="#c0c0c0"/>
<rect x="820" y="738" width="1" height="25" fill="#c0c0c0"/>
<rect x="824" y="738" width="1" height="20" fill="#c0c0c0"/>
<rect x="828" y="738" width="1" height="18" fill="#c0c0c0"/>
<rect x="832" y="738" width="1" height="17" fill="#c0c0c0"/>
<rect x="836" y="738" width="1" height="16" fill="#c0c0c0"/>
<rect x="840" y="738" width="1" height="15" fill="#c0c0c0"/>
<rect x="844" y="738" width="1" height="13" fill="#c0c0c0"/>
<rect x="848" y="738" width="1" height="15" fill="#c0c0c0"/>
<rect x="852" y="738" width="1" height="15" fill="#c0c0c0"/>
<rect x="856" y="738" width="1" height="16" fill="#c0c0c0"/>
<rect x="860" y="738" width="1" height="16" fill="#c0c0c0"/>
<rect x="864" y="738" width="1" height="20" fill="#c0c0c0"/>
<rect x="868" y="738" width="1" height="23" fill="#c0c0c0"/>
<rect x="872" y="738" width="1" height="22" fill="#c0c0c0"/>
<rect x="876" y="738" width="1" height="21" fill="#c0c0c0"/>
<rect x="880" y="738" width="1" height="21" fill="#c0c0c0"/>
<rect x="884" y="738" width="1" height="22" fill="#c0c0c0"/>
<rect x="888" y="738" width="1" height="24" fill="#c0c0c0"/>
<rect x="892" y="738" width="1" height="24" fill="#c0c0c0"/>
<rect x="896" y="738" width="1" height="24" fill="#c0c0c0"/>
<rect x="900" y="738" width="1" height="24" fill="#c0c0c0"/>
<rect x="904" y="738" width="1" height="24" fill="#c0c0c0"/>
<rect x="908" y="738" width="1" height="26" fill="#c0c0c0"/>
<rect x="912" y="738" width="1" height="28" fill="#c0c0c0"/>
<rect x="916" y="738" width="1" height="28" fill="#c0c0c0"/>
<rect x="920" y="738" width="1" height="28" fill="#c0c0c0"/>
<rect x="924" y="738" width="1" height="27" fill="#c0c0c0"/>
<rect x="928" y="738" width="1" height="27" fill="#c0c0c0"/>
<rect x="932" y="738" width="1" height="27" fill="#c0c0c0"/>
<rect x="936" y="738" width="1" height="28" fill="#c0c0c0"/>
<rect x="940" y="738" width="1" height="30" fill="#c0c0c0"/>
<rect x="944" y="738" width="1" height="33" fill="#c0c0c0"/>
<rect x="948" y="738" width="1" height="35" fill="#c0c0c0"/>
<rect x="952" y="738" width="1" height="37" fill="#c0c0c0"/>
<rect x="956" y="738" width="1" height="40" fill="#c0c0c0"/>
<rect x="960" y="738" width="1" height="41" fill="#c0c0c0"/>
<rect x="964" y="738" width="1" height="41" fill="#c0c0c0"/>
<rect x="968" y="738" width="1" height="40" fill="#c0c0c0"/>
<rect x="972" y="738" width="1" height="39" fill="#c0c0c0"/>
<rect x="976" y="738" width="1" height="38" fill="#c0c0c0"/>
<rect x="980" y="738" width="1" height="36" fill="#c0c0c0"/>
<rect x="984" y="738" width="1" height="36" fill="#c0c0c0"/>
<rect x="988" y="738" width="1" height="36" fill="#c0c0c0"/>
<rect x="992" y="738" width="1" height="35" fill="#c0c0c0"/>
<rect x="996" y="738" width="1" height="34" fill="#c0c0c0"/>
<rect x="1000" y="738" width="1" height="37" fill="#c0c0c0"/>
<rect x="1004" y="738" width="1" height="39" fill="#c0c0c0"/>
<rect x="1008" y="738" width="1" height="42" fill="#c0c0c0"/>
<rect x="1012" y="738" width="1" height="44" fill="#c0c0c0"/>
<rect x="1016" y="738" width="1" height="45" fill="#c0c0c0"/>
<rect x="1020" y="738" width="1" height="44" fill="#c0c0c0"/>
<rect x="1024" y="738" width="1" height="40" fill="#c0c0c0"/>
<rect x="1028" y="738" width="1" height="39" fill="#c0c0c0"/>
<rect x="1032" y="738" width="1" height="34" fill="#c0c0c0"/>
<rect x="1036" y="738" width="1" height="29" fill="#c0c0c0"/>
<rect x="1040" y="738" width="1" height="24" fill="#c0c0c0"/>
<rect x="1044" y="738" width="1" height="20" fill="#c0c0c0"/>
<rect x="1048" y="738" width="1" height="18" fill="#c0c0c0"/>
<rect x="1052" y="738" width="1" height="17" fill="#c0c0c0"/>
<rect x="1056" y="738" width="1" height="18" fill="#c0c0c0"/>
<rect x="1060" y="738" width="1" height="23" fill="#c0c0c0"/>
<rect x="1064" y="738" width="1" height="25" fill="#c0c0c0"/>
<rect x="1068" y="738" width="1" height="27" fill="#c0c0c0"/>
<rect x="1072" y="738" width="1" height="32" fill="#c0c0c0"/>
<rect x="1076" y="738" width="1" height="33" fill="#c0c0c0"/>
<rect x="1080" y="738" width="1" height="35" fill="#c0c0c0"/>
<rect x="1084" y="738" width="1" height="35" fill="#c0c0c0"/>
<rect x="1088" y="738" width="1" height="39" fill="#c0c0c0"/>
<rect x="1092" y="738" width="1" height="42" fill="#c0c0c0"/>
<rect x="1096" y="738" width="1" height="39" fill="#c0c0c0"/>
<rect x="1100" y="738" width="1" height="36" fill="#c0c0c0"/>
<rect x="1104" y="738" width="1" height="36" fill="#c0c0c0"/>
<rect x="1108" y="738" width="1" height="36" fill="#c0c0c0"/>
<rect x="1112" y="738" width="1" height="37" fill="#c0c0c0"/>
<rect x="1116" y="738" width="1" height="38" fill="#c0c0c0"/>
<rect x="1120" y="738" width="1" height="39" fill="#c0c0c0"/>
<rect x="1124" y="738" width="1" height="41" fill="#c0c0c0"/>
<rect x="1128" y="738" width="1" height="44" fill="#c0c0c0"/>
<rect x="1132" y="738" width="1" height="43" fill="#c0c0c0"/>
<rect x="1136" y="738" width="1" height="41" fill="#c0c0c0"/>
<rect x="1140" y="738" width="1" height="40" fill="#c0c0c0"/>
<rect x="1144" y="738" width="1" height="36" fill="#c0c0c0"/>
<rect x="1148" y="738" width="1" height="32" fill="#c0c0c0"/>
<rect x="1152" y="738" width="1" height="26" fill="#c0c0c0"/>
<rect x="1156" y="738" width="1" height="22" fill="#c0c0c0"/>
<rect x="1160" y="738" width="1" height="20" fill="#c0c0c0"/>
<rect x="1164" y="738" width="1" height="20" fill="#c0c0c0"/>
<rect x="1168" y="738" width="1" height="19" fill="#c0c0c0"/>
<rect x="1172" y="738" width="1" height="18" fill="#c0c0c0"/>
<rect x="1176" y="738" width="1" height="22" fill="#c0c0c0"/>
<rect x="1180" y="738" width="1" height="28" fill="#c0c0c0"/>
<rect x="1184" y="738" width="1" height="34" fill="#c0c0c0"/>
<rect x="1188" y="738" width="1" height="39" fill="#c0c0c0"/>
<rect x="1192" y="738" width="1" height="38" fill="#c0c0c0"/>
<rect x="1196" y="738" width="1" height="39" fill="#c0c0c0"/>
<rect x="1200" y="738" width="1" height="38" fill="#c0c0c0"/>
<rect x="1204" y="738" width="1" height="38" fill="#c0c0c0"/>
<rect x="1208" y="738" width="1" height="37" fill="#c0c0c0"/>
<rect x="1212" y="738" width="1" height="37" fill="#c0c0c0"/>
<rect x="1216" y="738" width="1" height="40" fill="#c0c0c0"/>
<rect x="1220" y="738" width="1" height="43" fill="#c0c0c0"/>
<rect x="1224" y="738" width="1" height="45" fill="#c0c0c0"/>
<rect x="1228" y="738" width="1" height="42" fill="#c0c0c0"/>
<rect x="1232" y="738" width="1" height="42" fill="#c0c0c0"/>
<rect x="1236" y="738" width="1" height="42" fill="#c0c0c0"/>
<rect x="1240" y="738" width="1" height="39" fill="#c0c0c0"/>
<rect x="1244" y="738" width="1" height="37" fill="#c0c0c0"/>
<rect x="1248" y="738" width="1" height="36" fill="#c0c0c0"/>
<rect x="1252" y="738" width="1" height="35" fill="#c0c0c0"/>
<rect x="1256" y="738" width="1" height="33" fill="#c0c0c0"/>
<rect x="1260" y="738" width="1" height="31" fill="#c0c0c0"/>
<rect x="1264" y="738" width="1" height="29" fill="#c0c0c0"/>
<rect x="1268" y="738" width="1" height="27" fill="#c0c0c0"/>
<path d="M425 697.5h3M431 698.5h3M420 699.5h2M419 700.5h1M437 700.5h3M415 702.5h1M443 702.5h2M414 703.5h1M445 703.5h1M413 704.5h1M449 705.5h2M451 706.5h1M409 708.5h1M455 708.5h2M408 709.5h1M457 709.5h1M407 710.5h1M461 711.5h1M462 712.5h1M463 713.5h1M404 714.5h1M403 715.5h1M402 716.5h1M467 716.5h1M468 717.5h1M469 718.5h1M323 720.5h3M399 720.5h1M473 720.5h1M311 721.5h3M317 721.5h3M398.5 721v2M474 721.5h1M641 721.5h3M258 722.5h2M263 722.5h2M301 722.5h1M305 722.5h3M329 722.5h2M475 722.5h1M635 722.5h3M647 722.5h3M257 723.5h1M265 723.5h1M269 723.5h3M294 723.5h2M299 723.5h2M331 723.5h1M653 723.5h1M251 724.5h3M275 724.5h3M281 724.5h3M293 724.5h1M631 724.5h1M654 724.5h2M287 725.5h3M629 725.5h2M247 726.5h1M335 726.5h1M395 726.5h1M479 726.5h1M557 726.5h3M563 726.5h3M569 726.5h3M575 726.5h1M623 726.5h3M659 726.5h1M246 727.5h1M336 727.5h1M394 727.5h1M480 727.5h1M551 727.5h3M576 727.5h2M581 727.5h3M612 727.5h2M617 727.5h3M660 727.5h1M245 728.5h1M337 728.5h1M393 728.5h1M481 728.5h1M587 728.5h3M593 728.5h2M605 728.5h3M611 728.5h1M661 728.5h1M545 729.5h3M595 729.5h1M599 729.5h3M485 730.5h1M539 730.5h3M241 731.5h1M486 731.5h1M528 731.5h2M533 731.5h3M665 731.5h1M240 732.5h1M341 732.5h1M390 732.5h1M487 732.5h1M515 732.5h3M521 732.5h3M527 732.5h1M666 732.5h1M239 733.5h1M342 733.5h1M389 733.5h1M510 733.5h2M667 733.5h1M343 734.5h1M388 734.5h1M491 734.5h3M497 734.5h3M503 734.5h3M509 734.5h1M235 737.5h1M347 737.5h1M671 737.5h1M40 738.5h3M46 738.5h3M52 738.5h3M234 738.5h1M348 738.5h1M385 738.5h1M672 738.5h1M34 739.5h3M58 739.5h1M233 739.5h1M349 739.5h1M384 739.5h1M673 739.5h1M30 740.5h1M59 740.5h2M383 740.5h1M28 741.5h2M22 742.5h3M64 742.5h3M677 742.5h1M18 743.5h1M231 743.5h1M353 743.5h1M379 743.5h1M678 743.5h2M16 744.5h2M70 744.5h2M230 744.5h1M354 744.5h1M377 744.5h2M10 745.5h3M72 745.5h1M229 745.5h1M355 745.5h1M6 746.5h1M76 746.5h2M373 746.5h1M683 746.5h1M4 747.5h2M78 747.5h1M359 747.5h1M371 747.5h2M684 747.5h2M82 748.5h1M360 748.5h2M757 748.5h1M761 748.5h3M83 749.5h2M88 749.5h1M100 749.5h3M106 749.5h2M227 749.5h1M365 749.5h3M749 749.5h3M755 749.5h2M89 750.5h2M94 750.5h3M108 750.5h1M112 750.5h3M118 750.5h3M226 750.5h1M689 750.5h1M743 750.5h3M767 750.5h3M124 751.5h3M225 751.5h1M690 751.5h2M731 751.5h3M737 751.5h3M130 752.5h2M719 752.5h3M725 752.5h3M773 752.5h2M132 753.5h1M695 753.5h3M701 753.5h3M707 753.5h3M713 753.5h3M775 753.5h1M136 754.5h2M857 754.5h3M863 754.5h2M138 755.5h1M222 755.5h1M779 755.5h1M851 755.5h3M865 755.5h1M869 755.5h3M142 756.5h3M221 756.5h1M780 756.5h1M148 757.5h2M220 757.5h1M781 757.5h1M845 757.5h3M875 757.5h3M881 757.5h3M150 758.5h1M154 759.5h2M785 759.5h2M841 759.5h1M887 759.5h3M156 760.5h1M787 760.5h1M839 760.5h2M893 760.5h3M1067 760.5h3M160 761.5h1M216 761.5h1M899 761.5h3M1073 761.5h3M161 762.5h2M215 762.5h1M791 762.5h3M833 762.5h3M905 762.5h3M911 762.5h3M1061 762.5h3M1175 762.5h3M1181 762.5h3M214 763.5h1M917 763.5h3M1079 763.5h2M1187 763.5h2M166 764.5h1M797 764.5h3M827 764.5h3M923 764.5h3M1057 764.5h1M1081 764.5h1M1171 764.5h1M1189 764.5h1M167 765.5h2M821 765.5h3M929 765.5h3M1056 765.5h1M1170 765.5h1M803 766.5h3M809 766.5h3M935 766.5h3M941 766.5h3M1055 766.5h1M1085 766.5h2M1169 766.5h1M1193 766.5h2M172 767.5h1M210 767.5h1M815 767.5h3M947 767.5h3M1087 767.5h1M1195 767.5h1M173 768.5h2M208 768.5h2M953 768.5h2M1051 768.5h1M955 769.5h1M1050 769.5h1M1091 769.5h2M1165 769.5h1M1199 769.5h2M178 770.5h1M1049 770.5h1M1093 770.5h1M1163 770.5h2M1201 770.5h1M179 771.5h2M203 771.5h2M959 771.5h1M202 772.5h1M960 772.5h2M1097 772.5h3M1159 772.5h1M1205 772.5h2M184 773.5h2M965 773.5h3M1045 773.5h1M1157 773.5h2M1207 773.5h1M186 774.5h1M196 774.5h3M1043 774.5h2M1103 774.5h3M1266 774.5h2M190 775.5h3M971 775.5h3M1001 775.5h3M1007 775.5h3M1109 775.5h3M1115 775.5h3M1153 775.5h1M1211 775.5h3M1265 775.5h1M977 776.5h3M995 776.5h3M1013 776.5h3M1039 776.5h1M1121 776.5h3M1151 776.5h2M1217 776.5h3M1259 776.5h3M983 777.5h3M989 777.5h3M1019 777.5h3M1037 777.5h2M1127 777.5h3M1133 777.5h3M1025 778.5h3M1031 778.5h3M1139 778.5h3M1145 778.5h3M1223 778.5h3M1229 778.5h3M1253 778.5h3M1247 779.5h3M1235 780.5h3M1241 780.5h3" fill="none" stroke="#ff0000" stroke-width="1"/>
<rect x="1598" y="120" width="40" height="11" fill="#ff0000"/>
<rect x="1598" y="198" width="40" height="11" fill="#ff0000"/>
<rect x="1598" y="284" width="40" height="11" fill="#ff0000"/>
<rect x="1598" y="383" width="40" height="11" fill="#ff0000"/>
<rect x="1598" y="488" width="40" height="11" fill="#00ff00"/>
<rect x="1598" y="564" width="40" height="11" fill="#0000ff"/>
<rect x="1598" y="526" width="40" height="11" fill="#000"/>
</svg>
<svg width="1638" height="40" style="position:absolute;left:0;top:0">
<polygon points="0,4 1.6,4 3.2,6.4 0,7.6" fill="#555"/>
<line x1="4.8" y1="7.2" x2="-0.3" y2="12.8" stroke="#555" stroke-width="1.4"/>
<polygon points="5,11 8,11 8,12 10.2,12 6.5,16.2 2.8,12 5,12" fill="#555"/>
<polygon points="16.6,8 22.4,8 19.5,11.2" fill="#000"/>
<polygon points="6.8,32 14.2,32 10.5,36.2" fill="#000"/>
</svg>
<svg width="38" height="20" style="position:absolute;left:1600px;top:812px">
<polygon points="15.5,5.5 15.5,11 11.8,8.2" fill="#a0a0a0"/>
<polygon points="30.5,4.6 30.5,11.2 34.3,7.9" fill="#000"/>
</svg>
<div class="t" style="left:1601.6px;top:47px;font-size:10px;letter-spacing:-0.378px;color:#000;-webkit-text-stroke:0.25px;">7.19825</div><div class="t" style="left:1601.6px;top:80px;font-size:10px;letter-spacing:-0.378px;color:#000;-webkit-text-stroke:0.25px;">7.15575</div><div class="t" style="left:1601.6px;top:113px;font-size:10px;letter-spacing:-0.272px;color:#000;-webkit-text-stroke:0.25px;">7.11325</div><div class="t" style="left:1601.6px;top:146px;font-size:10px;letter-spacing:-0.378px;color:#000;-webkit-text-stroke:0.25px;">7.07075</div><div class="t" style="left:1601.6px;top:179px;font-size:10px;letter-spacing:-0.378px;color:#000;-webkit-text-stroke:0.25px;">7.02825</div><div class="t" style="left:1601.6px;top:212px;font-size:10px;letter-spacing:-0.378px;color:#000;-webkit-text-stroke:0.25px;">6.98575</div><div class="t" style="left:1601.6px;top:245px;font-size:10px;letter-spacing:-0.378px;color:#000;-webkit-text-stroke:0.25px;">6.94325</div><div class="t" style="left:1601.6px;top:278px;font-size:10px;letter-spacing:-0.378px;color:#000;-webkit-text-stroke:0.25px;">6.90075</div><div class="t" style="left:1601.6px;top:311px;font-size:10px;letter-spacing:-0.378px;color:#000;-webkit-text-stroke:0.25px;">6.85825</div><div class="t" style="left:1601.6px;top:344px;font-size:10px;letter-spacing:-0.378px;color:#000;-webkit-text-stroke:0.25px;">6.81575</div><div class="t" style="left:1601.6px;top:377px;font-size:10px;letter-spacing:-0.378px;color:#000;-webkit-text-stroke:0.25px;">6.77325</div><div class="t" style="left:1601.6px;top:410px;font-size:10px;letter-spacing:-0.378px;color:#000;-webkit-text-stroke:0.25px;">6.73075</div><div class="t" style="left:1601.6px;top:443px;font-size:10px;letter-spacing:-0.378px;color:#000;-webkit-text-stroke:0.25px;">6.68825</div><div class="t" style="left:1601.6px;top:476px;font-size:10px;letter-spacing:-0.378px;color:#000;-webkit-text-stroke:0.25px;">6.64575</div><div class="t" style="left:1601.6px;top:509px;font-size:10px;letter-spacing:-0.378px;color:#000;-webkit-text-stroke:0.25px;">6.60325</div><div class="t" style="left:1601.6px;top:542px;font-size:10px;letter-spacing:-0.378px;color:#000;-webkit-text-stroke:0.25px;">6.56075</div><div class="t" style="left:1601.6px;top:575px;font-size:10px;letter-spacing:-0.378px;color:#000;-webkit-text-stroke:0.25px;">6.51825</div><div class="t" style="left:1601.6px;top:122px;font-size:10px;letter-spacing:-0.272px;color:#fff;-webkit-text-stroke:0.25px;">7.10011</div><div class="t" style="left:1601.6px;top:200px;font-size:10px;letter-spacing:-0.378px;color:#fff;-webkit-text-stroke:0.25px;">7.00029</div><div class="t" style="left:1601.6px;top:286px;font-size:10px;letter-spacing:-0.378px;color:#fff;-webkit-text-stroke:0.25px;">6.88897</div><div class="t" style="left:1601.6px;top:385px;font-size:10px;letter-spacing:-0.378px;color:#fff;-webkit-text-stroke:0.25px;">6.76157</div><div class="t" style="left:1601.6px;top:490px;font-size:10px;letter-spacing:-0.378px;color:#fff;-webkit-text-stroke:0.25px;">6.62646</div><div class="t" style="left:1601.6px;top:566px;font-size:10px;letter-spacing:-0.378px;color:#fff;-webkit-text-stroke:0.25px;">6.52866</div><div class="t" style="left:1601.6px;top:528px;font-size:10px;letter-spacing:-0.378px;color:#fff;-webkit-text-stroke:0.25px;">6.57869</div><div class="t" style="left:1600px;top:587px;font-size:10px;letter-spacing:-0.428px;color:#000;-webkit-text-stroke:0.25px;">100</div><div class="t" style="left:1600px;top:611px;font-size:10px;letter-spacing:-0.312px;color:#000;-webkit-text-stroke:0.25px;">70</div><div class="t" style="left:1600px;top:651px;font-size:10px;letter-spacing:-0.312px;color:#000;-webkit-text-stroke:0.25px;">30</div><div class="t" style="left:1600px;top:675px;font-size:10px;letter-spacing:0.038px;color:#000;-webkit-text-stroke:0.25px;">0</div><div class="t" style="left:1600px;top:691px;font-size:10px;letter-spacing:-0.401px;color:#000;-webkit-text-stroke:0.25px;">0.042275</div><div class="t" style="left:1600px;top:735px;font-size:10px;letter-spacing:-0.241px;color:#000;-webkit-text-stroke:0.25px;">0.00</div><div class="t" style="left:1600px;top:778px;font-size:10px;letter-spacing:-0.322px;color:#000;-webkit-text-stroke:0.25px;">-0.04148</div><div class="t" style="left:19.3px;top:30px;font-size:10px;letter-spacing:-0.124px;color:#000;-webkit-text-stroke:0.25px;">USDCNH,Daily</div><div class="t" style="left:90.7px;top:30px;font-size:10px;letter-spacing:-0.321px;color:#000;-webkit-text-stroke:0.25px;">6.57869</div><div class="t" style="left:127px;top:30px;font-size:10px;letter-spacing:-0.321px;color:#000;-webkit-text-stroke:0.25px;">6.58492</div><div class="t" style="left:163px;top:30px;font-size:10px;letter-spacing:-0.321px;color:#000;-webkit-text-stroke:0.25px;">6.57447</div><div class="t" style="left:198.7px;top:30px;font-size:10px;letter-spacing:-0.321px;color:#000;-webkit-text-stroke:0.25px;">6.57869</div><div class="t" style="left:8px;top:589px;font-size:10px;letter-spacing:-0.293px;color:#000;-webkit-text-stroke:0.25px;">RSI(14)</div><div class="t" style="left:43px;top:589px;font-size:10px;letter-spacing:-0.364px;color:#000;-webkit-text-stroke:0.25px;">43.0046</div><div class="t" style="left:8.4px;top:693px;font-size:10px;letter-spacing:-0.305px;color:#000;-webkit-text-stroke:0.25px;">MACD(12,26,9)</div><div class="t" style="left:78px;top:693px;font-size:10px;letter-spacing:-0.560px;color:#000;-webkit-text-stroke:0.25px;">-0.022341</div><div class="t" style="left:122px;top:693px;font-size:10px;letter-spacing:-0.549px;color:#000;-webkit-text-stroke:0.25px;">-0.029125</div><div class="t" style="left:3px;top:794px;font-size:10px;letter-spacing:-0.335px;color:#000;-webkit-text-stroke:0.25px;">28&nbsp;Nov&nbsp;2019</div><div class="t" style="left:67px;top:794px;font-size:10px;letter-spacing:-0.335px;color:#000;-webkit-text-stroke:0.25px;">17&nbsp;Dec&nbsp;2019</div><div class="t" style="left:131px;top:794px;font-size:10px;letter-spacing:-0.322px;color:#000;-webkit-text-stroke:0.25px;">4&nbsp;Jan&nbsp;2020</div><div class="t" style="left:195px;top:794px;font-size:10px;letter-spacing:-0.325px;color:#000;-webkit-text-stroke:0.25px;">23&nbsp;Jan&nbsp;2020</div><div class="t" style="left:259px;top:794px;font-size:10px;letter-spacing:-0.327px;color:#000;-webkit-text-stroke:0.25px;">11&nbsp;Feb&nbsp;2020</div><div class="t" style="left:323px;top:794px;font-size:10px;letter-spacing:-0.332px;color:#000;-webkit-text-stroke:0.25px;">29&nbsp;Feb&nbsp;2020</div><div class="t" style="left:387px;top:794px;font-size:10px;letter-spacing:-0.332px;color:#000;-webkit-text-stroke:0.25px;">19&nbsp;Mar&nbsp;2020</div><div class="t" style="left:451px;top:794px;font-size:10px;letter-spacing:-0.314px;color:#000;-webkit-text-stroke:0.25px;">7&nbsp;Apr&nbsp;2020</div><div class="t" style="left:515px;top:794px;font-size:10px;letter-spacing:-0.319px;color:#000;-webkit-text-stroke:0.25px;">25&nbsp;Apr&nbsp;2020</div><div class="t" style="left:579px;top:794px;font-size:10px;letter-spacing:-0.342px;color:#000;-webkit-text-stroke:0.25px;">14&nbsp;May&nbsp;2020</div><div class="t" style="left:643px;top:794px;font-size:10px;letter-spacing:-0.322px;color:#000;-webkit-text-stroke:0.25px;">2&nbsp;Jun&nbsp;2020</div><div class="t" style="left:707px;top:794px;font-size:10px;letter-spacing:-0.325px;color:#000;-webkit-text-stroke:0.25px;">20&nbsp;Jun&nbsp;2020</div><div class="t" style="left:771px;top:794px;font-size:10px;letter-spacing:-0.300px;color:#000;-webkit-text-stroke:0.25px;">9&nbsp;Jul&nbsp;2020</div><div class="t" style="left:835px;top:794px;font-size:10px;letter-spacing:-0.306px;color:#000;-webkit-text-stroke:0.25px;">28&nbsp;Jul&nbsp;2020</div><div class="t" style="left:899px;top:794px;font-size:10px;letter-spacing:-0.332px;color:#000;-webkit-text-stroke:0.25px;">15&nbsp;Aug&nbsp;2020</div><div class="t" style="left:963px;top:794px;font-size:10px;letter-spacing:-0.333px;color:#000;-webkit-text-stroke:0.25px;">3&nbsp;Sep&nbsp;2020</div><div class="t" style="left:1027px;top:794px;font-size:10px;letter-spacing:-0.335px;color:#000;-webkit-text-stroke:0.25px;">22&nbsp;Sep&nbsp;2020</div><div class="t" style="left:1091px;top:794px;font-size:10px;letter-spacing:-0.322px;color:#000;-webkit-text-stroke:0.25px;">10&nbsp;Oct&nbsp;2020</div><div class="t" style="left:1155px;top:794px;font-size:10px;letter-spacing:-0.322px;color:#000;-webkit-text-stroke:0.25px;">29&nbsp;Oct&nbsp;2020</div><div class="t" style="left:1219px;top:794px;font-size:10px;letter-spacing:-0.335px;color:#000;-webkit-text-stroke:0.25px;">17&nbsp;Nov&nbsp;2020</div><div class="t" style="left:43.4px;top:6px;font-size:10px;letter-spacing:-0.096px;color:#222;">M1</div><div class="t" style="left:71.8px;top:6px;font-size:10px;letter-spacing:-0.296px;color:#222;">M5</div><div class="t" style="left:97.4px;top:6px;font-size:10px;letter-spacing:-0.318px;color:#222;">M15</div><div class="t" style="left:125.5px;top:6px;font-size:10px;letter-spacing:-0.284px;color:#222;">M30</div><div class="t" style="left:156.6px;top:6px;font-size:10px;letter-spacing:-0.192px;color:#222;">H1</div><div class="t" style="left:183.7px;top:6px;font-size:10px;letter-spacing:0.208px;color:#222;">H4</div><div class="t" style="left:212.6px;top:6px;font-size:10px;letter-spacing:-0.242px;color:#222;">D1</div><div class="t" style="left:240.1px;top:6px;font-size:10px;letter-spacing:-0.050px;color:#222;">W1</div><div class="t" style="left:266.6px;top:6px;font-size:10px;letter-spacing:-0.076px;color:#222;">MN</div><div class="t" style="left:16.9px;top:815.5px;font-size:12.6px;letter-spacing:-0.326px;color:#7a7a7a;">EURUSD,Daily</div><div class="t" style="left:119.4px;top:815.5px;font-size:12.6px;letter-spacing:-0.309px;color:#7a7a7a;">USDCHF,Daily</div><div class="t" style="left:220.2px;top:815.5px;font-size:12.6px;letter-spacing:-0.218px;color:#7a7a7a;">AUDUSD,Daily</div><div class="t" style="left:324.59999999999997px;top:815.5px;font-size:12.6px;letter-spacing:-0.334px;color:#7a7a7a;">USDCAD,Daily</div><div class="t" style="left:427.59999999999997px;top:815.5px;font-size:12.6px;letter-spacing:-0.242px;color:#000;">USDCNH,Daily</div><div class="t" style="left:533.5px;top:815.5px;font-size:12.6px;letter-spacing:-0.426px;color:#7a7a7a;">EURUSD,Daily</div><div class="t" style="left:637.4000000000001px;top:815.5px;font-size:12.6px;letter-spacing:-0.536px;color:#7a7a7a;">GBPUSD,H4</div><div class="t" style="left:728.4000000000001px;top:815.5px;font-size:12.6px;letter-spacing:-0.358px;color:#7a7a7a;">XAUUSD,H1</div><div class="t" style="left:820.7px;top:815.5px;font-size:12.6px;letter-spacing:-0.332px;color:#7a7a7a;">HK50,H1</div><div class="t" style="left:892.5px;top:815.5px;font-size:12.6px;letter-spacing:-0.204px;color:#7a7a7a;">UK100,H1</div><div class="t" style="left:972.5px;top:815.5px;font-size:12.6px;letter-spacing:-0.267px;color:#7a7a7a;">UK100,H1</div><div class="t" style="left:1052.8px;top:815.5px;font-size:12.6px;letter-spacing:-0.616px;color:#7a7a7a;">GER30,H1</div><div class="t" style="left:1131.7px;top:815.5px;font-size:12.6px;letter-spacing:-0.703px;color:#7a7a7a;">FRA40,H1</div><div class="t" style="left:1207.7px;top:815.5px;font-size:12.6px;letter-spacing:-0.164px;color:#7a7a7a;">USOil,Daily</div><div class="t" style="left:1291.6000000000001px;top:815.5px;font-size:12.6px;letter-spacing:-0.588px;color:#7a7a7a;">USDJPY,H1</div><div class="t" style="left:1375.2px;top:815.5px;font-size:12.6px;letter-spacing:-0.182px;color:#7a7a7a;">DJ30,Daily</div><div class="t" style="left:1455.5px;top:815.5px;font-size:12.6px;letter-spacing:-0.121px;color:#7a7a7a;">CHINA300,H1</div><div class="t" style="left:1555.8px;top:815.5px;font-size:12.6px;letter-spacing:-0.376px;color:#7a7a7a;">USOil,H1</div>
</body></html>
